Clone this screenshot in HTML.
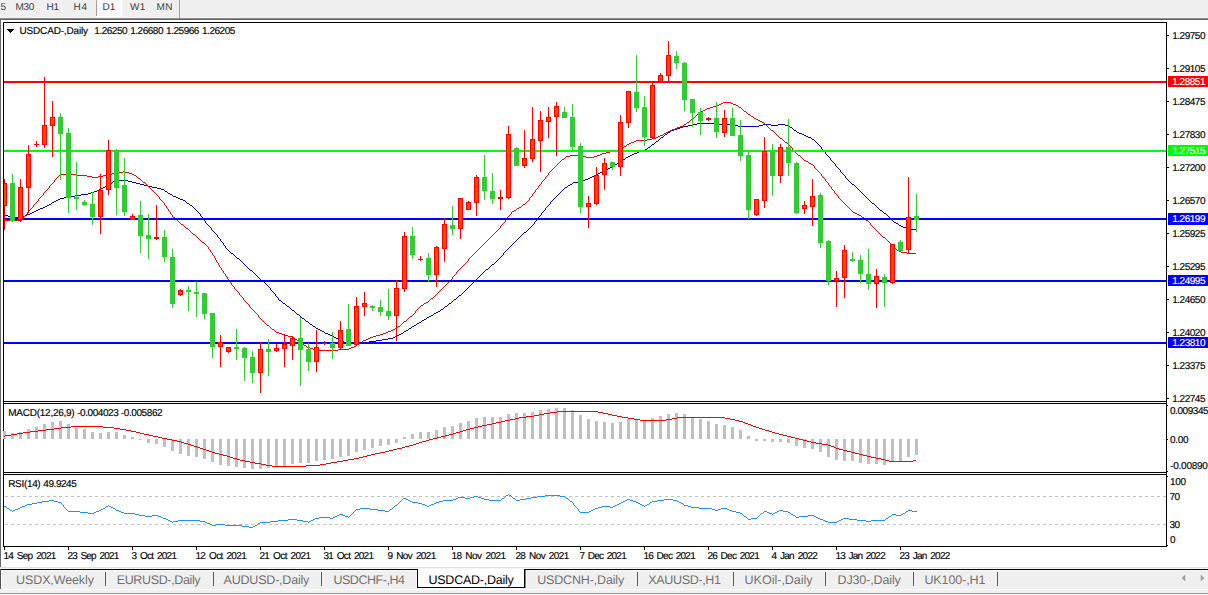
<!DOCTYPE html>
<html><head><meta charset="utf-8"><title>USDCAD-,Daily</title><style>
html,body{margin:0;padding:0;background:#fff;overflow:hidden}
body{width:1208px;height:595px;position:relative;font-family:"Liberation Sans",sans-serif}
svg{position:absolute;left:0;top:0;display:block}
text{font-family:"Liberation Sans",sans-serif;font-size:10px;fill:#000;text-rendering:geometricPrecision;stroke:#000;stroke-width:0.15px}
.tb{fill:#3a3a3a;stroke:none}
.tab{font-size:12.5px;fill:#707070;stroke:none}
.tabA{font-size:12.5px;fill:#000;stroke:none}
.w{fill:#fff;stroke:#fff}
.d{word-spacing:1.6px}
</style></head><body>
<svg width="1208" height="595" viewBox="0 0 1208 595">
<g shape-rendering="crispEdges">
<rect x="0" y="0" width="1208" height="595" fill="#fff"/>
<rect x="0" y="0" width="1208" height="17" fill="#f0f0f0"/>
<rect x="0" y="17" width="1208" height="1" fill="#f5f5f5"/>
<rect x="0" y="18" width="1208" height="1" fill="#8c8c8c"/>
<rect x="0" y="19" width="1208" height="1" fill="#646464"/>
<rect x="97" y="0" width="24" height="16" fill="#f8f8f8"/>
<rect x="96" y="0" width="1" height="16" fill="#a0a0a0"/>
<rect x="96" y="16" width="26" height="1" fill="#ffffff"/>
<rect x="121" y="0" width="1" height="17" fill="#ffffff"/>
<rect x="179" y="0" width="1" height="18" fill="#a0a0a0"/>
<rect x="0" y="19" width="1" height="569" fill="#696969"/>
<rect x="3" y="22" width="1164" height="1" fill="#000"/>
<rect x="3" y="22" width="1" height="525" fill="#000"/>
<rect x="1166" y="22" width="1" height="525" fill="#000"/>
<rect x="3" y="401" width="1164" height="1" fill="#000"/>
<rect x="3" y="403" width="1164" height="1" fill="#000"/>
<rect x="3" y="472" width="1164" height="1" fill="#000"/>
<rect x="3" y="474" width="1164" height="1" fill="#000"/>
<rect x="3" y="546" width="1164" height="1" fill="#000"/>
</g>
<defs><clipPath id="cm"><rect x="4" y="23" width="1162" height="378"/></clipPath></defs>
<g clip-path="url(#cm)">
<path d="M4 214h1v1h-1zM5 215h3v1h-3zM8 216h2v1h-2zM10 217h13v1h-13zM23 216h2v1h-2zM25 215h2v1h-2zM27 214h3v1h-3zM30 213h2v1h-2zM32 212h2v1h-2zM34 211h2v1h-2zM36 210h2v1h-2zM38 209h2v1h-2zM40 208h3v1h-3zM43 207h2v1h-2zM45 206h2v1h-2zM47 205h2v1h-2zM49 204h2v1h-2zM51 203h1v1h-1zM52 202h2v1h-2zM54 201h2v1h-2zM56 200h2v1h-2zM58 199h2v1h-2zM60 198h4v1h-4zM64 197h5v1h-5zM69 196h6v1h-6zM75 195h6v1h-6zM81 194h7v1h-7zM88 193h3v1h-3zM91 192h3v1h-3zM94 191h3v1h-3zM97 190h2v1h-2zM99 189h2v1h-2zM101 188h2v1h-2zM103 187h2v1h-2zM105 186h1v1h-1zM106 185h2v1h-2zM108 184h2v1h-2zM110 183h2v1h-2zM112 182h1v1h-1zM113 181h3v1h-3zM116 180h12v1h-12zM128 181h4v1h-4zM132 182h4v1h-4zM136 183h4v1h-4zM140 184h4v1h-4zM144 185h4v1h-4zM148 186h4v1h-4zM152 187h5v1h-5zM157 188h4v1h-4zM161 189h3v1h-3zM164 190h1v1h-1zM165 191h2v1h-2zM167 192h1v1h-1zM168 193h2v1h-2zM170 194h2v1h-2zM172 195h1v1h-1zM173 196h3v1h-3zM176 197h2v1h-2zM178 198h2v1h-2zM180 199h3v1h-3zM183 200h2v1h-2zM185 201h1v1h-1zM186 202h1v1h-1zM187 203h2v1h-2zM189 204h1v1h-1zM190 205h2v1h-2zM192 206h1v1h-1zM193 207h1v1h-1zM194 208h1v1h-1zM195 209h1v1h-1zM196 210h1v1h-1zM197 211h1v1h-1zM198 212h1v1h-1zM199 213h1v1h-1zM200 214h1v2h-1zM201 216h1v1h-1zM202 217h1v1h-1zM203 218h1v2h-1zM204 220h1v1h-1zM205 221h1v2h-1zM206 223h1v1h-1zM207 224h1v1h-1zM208 225h1v1h-1zM209 226h1v1h-1zM210 227h1v1h-1zM211 228h1v2h-1zM212 230h1v1h-1zM213 231h1v1h-1zM214 232h1v1h-1zM215 233h1v1h-1zM216 234h1v1h-1zM217 235h1v2h-1zM218 237h1v1h-1zM219 238h1v1h-1zM220 239h1v2h-1zM221 241h1v1h-1zM222 242h1v1h-1zM223 243h1v2h-1zM224 245h1v1h-1zM225 246h1v2h-1zM226 248h1v1h-1zM227 249h1v1h-1zM228 250h1v1h-1zM229 251h1v1h-1zM230 252h1v1h-1zM231 253h2v1h-2zM233 254h1v1h-1zM234 255h1v1h-1zM235 256h1v1h-1zM236 257h1v1h-1zM237 258h2v1h-2zM239 259h1v1h-1zM240 260h1v1h-1zM241 261h1v1h-1zM242 262h1v1h-1zM243 263h1v1h-1zM244 264h1v1h-1zM245 265h1v1h-1zM246 266h1v1h-1zM247 267h1v1h-1zM248 268h1v1h-1zM249 269h1v1h-1zM250 270h2v1h-2zM252 271h1v1h-1zM253 272h1v1h-1zM254 273h1v1h-1zM255 274h1v1h-1zM256 275h1v1h-1zM257 276h1v1h-1zM258 277h1v1h-1zM259 278h1v1h-1zM260 279h1v1h-1zM261 280h1v1h-1zM262 281h2v1h-2zM264 282h1v1h-1zM265 283h1v1h-1zM266 284h1v1h-1zM267 285h1v1h-1zM268 286h1v1h-1zM269 287h1v1h-1zM270 288h1v2h-1zM271 290h1v1h-1zM272 291h1v1h-1zM273 292h1v1h-1zM274 293h1v1h-1zM275 294h1v2h-1zM276 296h1v1h-1zM277 297h1v1h-1zM278 298h1v2h-1zM279 300h2v1h-2zM281 301h1v1h-1zM282 302h1v1h-1zM283 303h2v1h-2zM285 304h1v1h-1zM286 305h1v1h-1zM287 306h2v1h-2zM289 307h1v1h-1zM290 308h1v1h-1zM291 309h1v1h-1zM292 310h2v1h-2zM294 311h1v1h-1zM295 312h1v1h-1zM296 313h1v1h-1zM297 314h2v1h-2zM299 315h1v1h-1zM300 316h1v1h-1zM301 317h1v1h-1zM302 318h2v1h-2zM304 319h1v1h-1zM305 320h1v1h-1zM306 321h2v1h-2zM308 322h1v1h-1zM309 323h1v1h-1zM310 324h2v1h-2zM312 325h1v1h-1zM313 326h2v1h-2zM315 327h1v1h-1zM316 328h2v1h-2zM318 329h2v1h-2zM320 330h2v1h-2zM322 331h2v1h-2zM324 332h1v1h-1zM325 333h3v1h-3zM328 334h2v1h-2zM330 335h2v1h-2zM332 336h2v1h-2zM334 337h2v1h-2zM336 338h2v1h-2zM338 339h2v1h-2zM340 340h1v1h-1zM341 341h3v1h-3zM344 342h2v1h-2zM346 343h15v1h-15zM361 342h8v1h-8zM369 341h7v1h-7zM376 340h6v1h-6zM382 339h6v1h-6zM388 338h5v1h-5zM393 337h2v1h-2zM395 336h2v1h-2zM397 335h2v1h-2zM399 334h2v1h-2zM401 333h2v1h-2zM403 332h1v1h-1zM404 331h2v1h-2zM406 330h2v1h-2zM408 329h1v1h-1zM409 328h2v1h-2zM411 327h1v1h-1zM412 326h2v1h-2zM414 325h2v1h-2zM416 324h1v1h-1zM417 323h2v1h-2zM419 322h2v1h-2zM421 321h1v1h-1zM422 320h2v1h-2zM424 319h2v1h-2zM426 318h1v1h-1zM427 317h2v1h-2zM429 316h2v1h-2zM431 315h2v1h-2zM433 314h1v1h-1zM434 313h2v1h-2zM436 312h2v1h-2zM438 311h2v1h-2zM440 310h1v1h-1zM441 309h2v1h-2zM443 308h1v1h-1zM444 307h1v1h-1zM445 306h2v1h-2zM447 305h1v1h-1zM448 304h1v1h-1zM449 303h2v1h-2zM451 302h1v1h-1zM452 301h1v1h-1zM453 300h1v1h-1zM454 299h2v1h-2zM456 298h1v1h-1zM457 297h1v1h-1zM458 296h1v1h-1zM459 295h2v1h-2zM461 294h1v1h-1zM462 293h1v1h-1zM463 292h1v1h-1zM464 291h1v1h-1zM465 290h1v1h-1zM466 289h1v1h-1zM467 288h1v1h-1zM468 287h1v1h-1zM469 286h1v1h-1zM470 285h1v1h-1zM471 284h1v1h-1zM472 283h1v1h-1zM473 282h1v1h-1zM474 281h1v1h-1zM475 280h1v1h-1zM476 279h1v1h-1zM477 278h1v1h-1zM478 277h1v1h-1zM479 276h1v1h-1zM480 275h1v1h-1zM481 274h1v1h-1zM482 273h1v1h-1zM483 272h1v1h-1zM484 271h1v1h-1zM485 270h1v1h-1zM486 269h2v1h-2zM488 268h1v1h-1zM489 267h1v1h-1zM490 266h1v1h-1zM491 265h1v1h-1zM492 264h2v1h-2zM494 263h1v1h-1zM495 262h1v1h-1zM496 261h1v1h-1zM497 260h1v1h-1zM498 259h1v1h-1zM499 258h1v1h-1zM500 257h1v1h-1zM501 256h1v1h-1zM502 255h1v1h-1zM503 253h1v2h-1zM504 252h1v1h-1zM505 251h1v1h-1zM506 250h1v1h-1zM507 249h1v1h-1zM508 248h1v1h-1zM509 247h1v1h-1zM510 246h1v1h-1zM511 245h1v1h-1zM512 244h1v1h-1zM513 243h1v1h-1zM514 242h1v1h-1zM515 241h1v1h-1zM516 240h1v1h-1zM517 239h1v1h-1zM518 238h1v1h-1zM519 237h1v1h-1zM520 236h1v1h-1zM521 235h1v1h-1zM522 234h1v1h-1zM523 233h1v1h-1zM524 232h2v1h-2zM526 231h1v1h-1zM527 230h1v1h-1zM528 229h1v1h-1zM529 228h1v1h-1zM530 227h1v1h-1zM531 226h1v1h-1zM532 225h1v1h-1zM533 224h1v1h-1zM534 222h1v2h-1zM535 221h1v1h-1zM536 220h1v1h-1zM537 219h1v1h-1zM538 217h1v2h-1zM539 216h1v1h-1zM540 215h1v1h-1zM541 213h1v2h-1zM542 212h1v1h-1zM543 211h1v1h-1zM544 210h1v1h-1zM545 208h1v2h-1zM546 207h1v1h-1zM547 206h1v1h-1zM548 205h1v1h-1zM549 204h1v1h-1zM550 202h1v2h-1zM551 201h1v1h-1zM552 200h1v1h-1zM553 199h1v1h-1zM554 198h1v1h-1zM555 197h1v1h-1zM556 196h1v1h-1zM557 195h1v1h-1zM558 194h1v1h-1zM559 193h1v1h-1zM560 192h1v1h-1zM561 191h1v1h-1zM562 190h1v1h-1zM563 189h1v1h-1zM564 188h1v1h-1zM565 187h2v1h-2zM567 186h1v1h-1zM568 185h2v1h-2zM570 184h2v1h-2zM572 183h1v1h-1zM573 182h7v1h-7zM580 181h3v1h-3zM583 180h2v1h-2zM585 179h3v1h-3zM588 178h2v1h-2zM590 177h2v1h-2zM592 176h2v1h-2zM594 175h2v1h-2zM596 174h2v1h-2zM598 173h2v1h-2zM600 172h2v1h-2zM602 171h2v1h-2zM604 170h2v1h-2zM606 169h2v1h-2zM608 168h2v1h-2zM610 167h2v1h-2zM612 166h2v1h-2zM614 165h1v1h-1zM615 164h2v1h-2zM617 163h1v1h-1zM618 162h2v1h-2zM620 161h1v1h-1zM621 160h2v1h-2zM623 159h2v1h-2zM625 158h1v1h-1zM626 157h2v1h-2zM628 156h2v1h-2zM630 155h2v1h-2zM632 154h2v1h-2zM634 153h3v1h-3zM637 152h2v1h-2zM639 151h3v1h-3zM642 150h3v1h-3zM645 149h2v1h-2zM647 148h1v1h-1zM648 147h2v1h-2zM650 146h1v1h-1zM651 145h1v1h-1zM652 144h2v1h-2zM654 143h1v1h-1zM655 142h1v1h-1zM656 141h2v1h-2zM658 140h1v1h-1zM659 139h1v1h-1zM660 138h1v1h-1zM661 137h2v1h-2zM663 136h1v1h-1zM664 135h1v1h-1zM665 134h2v1h-2zM667 133h1v1h-1zM668 132h2v1h-2zM670 131h1v1h-1zM671 130h3v1h-3zM674 129h3v1h-3zM677 128h3v1h-3zM680 127h3v1h-3zM683 126h5v1h-5zM688 125h4v1h-4zM692 124h5v1h-5zM697 123h21v1h-21zM718 124h14v1h-14zM732 125h6v1h-6zM738 126h21v1h-21zM759 125h4v1h-4zM763 124h8v1h-8zM771 125h7v1h-7zM778 124h7v1h-7zM785 125h4v1h-4zM789 126h1v1h-1zM790 127h2v1h-2zM792 128h1v1h-1zM793 129h1v1h-1zM794 130h2v1h-2zM796 131h1v1h-1zM797 132h2v1h-2zM799 133h3v1h-3zM802 134h2v1h-2zM804 135h2v1h-2zM806 136h2v1h-2zM808 137h3v1h-3zM811 138h1v1h-1zM812 139h2v1h-2zM814 140h1v1h-1zM815 141h1v1h-1zM816 142h1v1h-1zM817 143h1v1h-1zM818 144h1v1h-1zM819 145h1v1h-1zM820 146h1v1h-1zM821 147h1v2h-1zM822 149h1v1h-1zM823 150h1v1h-1zM824 151h1v1h-1zM825 152h1v2h-1zM826 154h1v1h-1zM827 155h1v1h-1zM828 156h1v1h-1zM829 157h1v1h-1zM830 158h1v2h-1zM831 160h1v1h-1zM832 161h1v1h-1zM833 162h1v1h-1zM834 163h1v1h-1zM835 164h1v2h-1zM836 166h1v1h-1zM837 167h1v1h-1zM838 168h1v1h-1zM839 169h1v1h-1zM840 170h1v2h-1zM841 172h1v1h-1zM842 173h1v1h-1zM843 174h1v1h-1zM844 175h1v1h-1zM845 176h1v2h-1zM846 178h1v1h-1zM847 179h1v1h-1zM848 180h1v1h-1zM849 181h1v1h-1zM850 182h1v1h-1zM851 183h1v1h-1zM852 184h2v1h-2zM854 185h1v1h-1zM855 186h1v1h-1zM856 187h1v1h-1zM857 188h1v1h-1zM858 189h1v1h-1zM859 190h1v1h-1zM860 191h1v1h-1zM861 192h1v1h-1zM862 193h1v1h-1zM863 194h1v1h-1zM864 195h1v1h-1zM865 196h1v1h-1zM866 197h1v1h-1zM867 198h1v1h-1zM868 199h1v1h-1zM869 200h1v1h-1zM870 201h1v1h-1zM871 202h1v1h-1zM872 203h2v1h-2zM874 204h1v1h-1zM875 205h1v1h-1zM876 206h1v1h-1zM877 207h1v1h-1zM878 208h1v1h-1zM879 209h1v1h-1zM880 210h2v1h-2zM882 211h1v1h-1zM883 212h1v1h-1zM884 213h2v1h-2zM886 214h1v1h-1zM887 215h1v1h-1zM888 216h1v1h-1zM889 217h1v1h-1zM890 218h1v1h-1zM891 219h1v1h-1zM892 220h1v1h-1zM893 221h1v1h-1zM894 222h2v1h-2zM896 223h2v1h-2zM898 224h1v1h-1zM899 225h2v1h-2zM901 226h2v1h-2zM903 227h4v1h-4zM907 228h4v1h-4zM911 229h5v1h-5zM916 230h1v1h-1z" fill="#0000cd" shape-rendering="crispEdges"/>
<path d="M4 220h18v1h-18zM22 218h1v2h-1zM23 217h1v1h-1zM24 216h1v1h-1zM25 215h1v1h-1zM26 214h1v1h-1zM27 212h1v2h-1zM28 211h1v1h-1zM29 210h1v1h-1zM30 209h1v1h-1zM31 208h1v1h-1zM32 207h1v1h-1zM33 205h1v2h-1zM34 204h1v1h-1zM35 203h1v1h-1zM36 202h1v1h-1zM37 201h1v1h-1zM38 199h1v2h-1zM39 198h1v1h-1zM40 197h1v1h-1zM41 196h1v1h-1zM42 195h1v1h-1zM43 193h1v2h-1zM44 192h1v1h-1zM45 191h1v1h-1zM46 190h1v1h-1zM47 189h1v1h-1zM48 188h1v1h-1zM49 186h1v2h-1zM50 185h1v1h-1zM51 184h1v1h-1zM52 183h1v1h-1zM53 182h1v1h-1zM54 180h1v2h-1zM55 179h1v1h-1zM56 178h1v1h-1zM57 177h1v1h-1zM58 176h1v1h-1zM59 175h1v1h-1zM60 174h17v1h-17zM77 175h10v1h-10zM87 176h5v1h-5zM92 177h6v1h-6zM98 176h5v1h-5zM103 175h3v1h-3zM106 174h6v1h-6zM112 173h7v1h-7zM119 172h4v1h-4zM123 171h2v1h-2zM125 172h4v1h-4zM129 173h3v1h-3zM132 174h2v1h-2zM134 175h2v1h-2zM136 176h1v1h-1zM137 177h1v1h-1zM138 178h2v1h-2zM140 179h1v1h-1zM141 180h1v1h-1zM142 181h1v1h-1zM143 182h2v1h-2zM145 183h1v1h-1zM146 184h1v1h-1zM147 185h1v1h-1zM148 186h1v1h-1zM149 187h1v1h-1zM150 188h1v1h-1zM151 189h1v1h-1zM152 190h1v1h-1zM153 191h1v1h-1zM154 192h1v1h-1zM155 193h1v1h-1zM156 194h1v1h-1zM157 195h1v1h-1zM158 196h1v1h-1zM159 197h1v2h-1zM160 199h1v1h-1zM161 200h1v1h-1zM162 201h1v1h-1zM163 202h1v1h-1zM164 203h1v2h-1zM165 205h1v1h-1zM166 206h1v2h-1zM167 208h1v1h-1zM168 209h1v2h-1zM169 211h1v1h-1zM170 212h1v2h-1zM171 214h1v1h-1zM172 215h1v2h-1zM173 217h2v1h-2zM175 218h1v1h-1zM176 219h1v1h-1zM177 220h1v1h-1zM178 221h1v1h-1zM179 222h1v1h-1zM180 223h1v1h-1zM181 224h2v1h-2zM183 225h1v1h-1zM184 226h1v1h-1zM185 227h1v1h-1zM186 228h2v1h-2zM188 229h1v1h-1zM189 230h1v1h-1zM190 231h1v1h-1zM191 232h1v1h-1zM192 233h1v1h-1zM193 234h2v1h-2zM195 235h1v1h-1zM196 236h1v1h-1zM197 237h1v1h-1zM198 238h1v1h-1zM199 239h1v1h-1zM200 240h1v1h-1zM201 241h1v1h-1zM202 242h2v1h-2zM204 243h1v1h-1zM205 244h1v1h-1zM206 245h1v1h-1zM207 246h1v1h-1zM208 247h1v2h-1zM209 249h1v1h-1zM210 250h1v2h-1zM211 252h1v1h-1zM212 253h1v2h-1zM213 255h1v1h-1zM214 256h1v2h-1zM215 258h1v2h-1zM216 260h1v2h-1zM217 262h1v1h-1zM218 263h1v2h-1zM219 265h1v2h-1zM220 267h1v1h-1zM221 268h1v2h-1zM222 270h1v1h-1zM223 271h1v2h-1zM224 273h1v1h-1zM225 274h1v2h-1zM226 276h1v1h-1zM227 277h1v2h-1zM228 279h1v1h-1zM229 280h1v2h-1zM230 282h1v1h-1zM231 283h1v2h-1zM232 285h1v1h-1zM233 286h1v1h-1zM234 287h1v2h-1zM235 289h1v1h-1zM236 290h1v1h-1zM237 291h1v1h-1zM238 292h1v1h-1zM239 293h1v2h-1zM240 295h1v1h-1zM241 296h1v1h-1zM242 297h1v1h-1zM243 298h1v2h-1zM244 300h1v1h-1zM245 301h1v1h-1zM246 302h1v1h-1zM247 303h1v1h-1zM248 304h1v1h-1zM249 305h1v2h-1zM250 307h1v1h-1zM251 308h1v1h-1zM252 309h1v1h-1zM253 310h1v1h-1zM254 311h1v1h-1zM255 312h1v1h-1zM256 313h1v1h-1zM257 314h1v1h-1zM258 315h1v2h-1zM259 317h1v1h-1zM260 318h1v1h-1zM261 319h1v1h-1zM262 320h1v1h-1zM263 321h1v1h-1zM264 322h1v1h-1zM265 323h1v1h-1zM266 324h1v1h-1zM267 325h2v1h-2zM269 326h1v1h-1zM270 327h1v1h-1zM271 328h1v1h-1zM272 329h2v1h-2zM274 330h1v1h-1zM275 331h1v1h-1zM276 332h3v1h-3zM279 333h3v1h-3zM282 334h2v1h-2zM284 335h4v1h-4zM288 336h4v1h-4zM292 337h2v1h-2zM294 338h1v1h-1zM295 339h2v1h-2zM297 340h1v1h-1zM298 341h2v1h-2zM300 342h1v1h-1zM301 343h2v1h-2zM303 344h1v1h-1zM304 345h2v1h-2zM306 346h1v1h-1zM307 347h3v1h-3zM310 348h3v1h-3zM313 349h5v1h-5zM318 350h20v1h-20zM338 349h11v1h-11zM349 348h2v1h-2zM351 347h3v1h-3zM354 346h2v1h-2zM356 345h1v1h-1zM357 344h2v1h-2zM359 343h1v1h-1zM360 342h2v1h-2zM362 341h1v1h-1zM363 340h3v1h-3zM366 339h2v1h-2zM368 338h2v1h-2zM370 337h3v1h-3zM373 336h3v1h-3zM376 335h4v1h-4zM380 334h3v1h-3zM383 333h3v1h-3zM386 332h2v1h-2zM388 331h3v1h-3zM391 330h2v1h-2zM393 329h2v1h-2zM395 328h2v1h-2zM397 327h1v1h-1zM398 326h2v1h-2zM400 325h1v1h-1zM401 324h1v1h-1zM402 323h1v1h-1zM403 322h1v1h-1zM404 321h2v1h-2zM406 320h1v1h-1zM407 319h1v1h-1zM408 318h1v1h-1zM409 317h1v1h-1zM410 316h2v1h-2zM412 315h1v1h-1zM413 314h1v1h-1zM414 313h1v1h-1zM415 311h1v2h-1zM416 310h1v1h-1zM417 309h1v1h-1zM418 308h1v1h-1zM419 307h1v1h-1zM420 306h1v1h-1zM421 305h2v1h-2zM423 304h1v1h-1zM424 303h2v1h-2zM426 302h2v1h-2zM428 301h1v1h-1zM429 300h1v1h-1zM430 299h1v1h-1zM431 298h2v1h-2zM433 297h1v1h-1zM434 296h1v1h-1zM435 295h1v1h-1zM436 294h1v1h-1zM437 293h1v1h-1zM438 292h1v1h-1zM439 291h1v1h-1zM440 290h1v1h-1zM441 289h1v1h-1zM442 288h1v1h-1zM443 287h1v1h-1zM444 286h1v1h-1zM445 285h1v1h-1zM446 284h1v1h-1zM447 283h1v1h-1zM448 282h1v1h-1zM449 281h1v1h-1zM450 280h1v1h-1zM451 279h1v1h-1zM452 277h1v2h-1zM453 276h1v1h-1zM454 275h1v1h-1zM455 274h1v1h-1zM456 272h1v2h-1zM457 271h1v1h-1zM458 270h1v1h-1zM459 269h1v1h-1zM460 268h1v1h-1zM461 267h1v1h-1zM462 266h1v1h-1zM463 265h1v1h-1zM464 264h1v1h-1zM465 263h1v1h-1zM466 262h1v1h-1zM467 261h1v1h-1zM468 259h1v2h-1zM469 258h1v1h-1zM470 257h1v1h-1zM471 256h1v1h-1zM472 255h1v1h-1zM473 254h1v1h-1zM474 253h1v1h-1zM475 252h1v1h-1zM476 251h1v1h-1zM477 250h1v1h-1zM478 249h1v1h-1zM479 248h1v1h-1zM480 247h1v1h-1zM481 246h1v1h-1zM482 245h1v1h-1zM483 244h1v1h-1zM484 243h1v1h-1zM485 242h1v1h-1zM486 241h1v1h-1zM487 240h1v1h-1zM488 239h1v1h-1zM489 238h1v1h-1zM490 237h1v1h-1zM491 236h1v1h-1zM492 235h1v1h-1zM493 234h1v1h-1zM494 233h1v1h-1zM495 232h1v1h-1zM496 231h1v1h-1zM497 230h1v1h-1zM498 229h1v1h-1zM499 228h1v1h-1zM500 226h1v2h-1zM501 225h1v1h-1zM502 224h1v1h-1zM503 223h1v1h-1zM504 222h1v1h-1zM505 220h1v2h-1zM506 218h1v2h-1zM507 217h1v1h-1zM508 216h1v1h-1zM509 215h1v1h-1zM510 214h1v1h-1zM511 212h1v2h-1zM512 211h2v1h-2zM514 210h2v1h-2zM516 209h1v1h-1zM517 208h2v1h-2zM519 207h2v1h-2zM521 206h1v1h-1zM522 205h1v1h-1zM523 204h2v1h-2zM525 203h1v1h-1zM526 202h1v1h-1zM527 201h1v1h-1zM528 200h1v1h-1zM529 198h1v2h-1zM530 197h1v1h-1zM531 196h1v1h-1zM532 194h1v2h-1zM533 193h1v1h-1zM534 192h1v1h-1zM535 190h1v2h-1zM536 189h1v1h-1zM537 188h1v1h-1zM538 186h1v2h-1zM539 185h1v1h-1zM540 184h1v1h-1zM541 182h1v2h-1zM542 181h1v1h-1zM543 180h1v1h-1zM544 179h1v1h-1zM545 177h1v2h-1zM546 176h1v1h-1zM547 175h1v1h-1zM548 173h1v2h-1zM549 172h1v1h-1zM550 171h1v1h-1zM551 170h1v1h-1zM552 169h1v1h-1zM553 168h1v1h-1zM554 167h1v1h-1zM555 166h1v1h-1zM556 165h1v1h-1zM557 164h1v1h-1zM558 163h1v1h-1zM559 162h1v1h-1zM560 161h1v1h-1zM561 160h1v1h-1zM562 159h2v1h-2zM564 158h1v1h-1zM565 157h1v1h-1zM566 156h4v1h-4zM570 155h12v1h-12zM582 156h4v1h-4zM586 157h8v1h-8zM594 156h3v1h-3zM597 155h3v1h-3zM600 154h2v1h-2zM602 153h4v1h-4zM606 152h4v1h-4zM610 151h4v1h-4zM614 150h5v1h-5zM619 149h2v1h-2zM621 148h2v1h-2zM623 147h1v1h-1zM624 146h2v1h-2zM626 145h1v1h-1zM627 144h2v1h-2zM629 143h2v1h-2zM631 142h3v1h-3zM634 141h2v1h-2zM636 140h11v1h-11zM647 139h5v1h-5zM652 138h4v1h-4zM656 137h2v1h-2zM658 136h2v1h-2zM660 135h3v1h-3zM663 134h1v1h-1zM664 133h2v1h-2zM666 132h2v1h-2zM668 131h2v1h-2zM670 130h2v1h-2zM672 129h3v1h-3zM675 128h2v1h-2zM677 127h3v1h-3zM680 126h3v1h-3zM683 125h1v1h-1zM684 124h2v1h-2zM686 123h1v1h-1zM687 122h2v1h-2zM689 121h1v1h-1zM690 120h1v1h-1zM691 119h2v1h-2zM693 118h1v1h-1zM694 117h1v1h-1zM695 116h1v1h-1zM696 115h1v1h-1zM697 114h1v1h-1zM698 113h1v1h-1zM699 112h2v1h-2zM701 111h2v1h-2zM703 110h2v1h-2zM705 109h2v1h-2zM707 108h3v1h-3zM710 107h3v1h-3zM713 106h3v1h-3zM716 105h3v1h-3zM719 104h2v1h-2zM721 103h2v1h-2zM723 102h8v1h-8zM731 103h2v1h-2zM733 104h3v1h-3zM736 105h2v1h-2zM738 106h1v1h-1zM739 107h2v1h-2zM741 108h1v1h-1zM742 109h1v1h-1zM743 110h1v1h-1zM744 111h2v1h-2zM746 112h1v1h-1zM747 113h1v1h-1zM748 114h2v1h-2zM750 115h1v1h-1zM751 116h2v1h-2zM753 117h1v1h-1zM754 118h2v1h-2zM756 119h2v1h-2zM758 120h2v1h-2zM760 121h2v1h-2zM762 122h2v1h-2zM764 123h1v1h-1zM765 124h1v1h-1zM766 125h1v1h-1zM767 126h1v1h-1zM768 127h1v1h-1zM769 128h1v1h-1zM770 129h1v1h-1zM771 130h2v1h-2zM773 131h1v1h-1zM774 132h1v1h-1zM775 133h1v1h-1zM776 134h1v1h-1zM777 135h1v1h-1zM778 136h1v1h-1zM779 137h1v1h-1zM780 138h2v1h-2zM782 139h1v1h-1zM783 140h1v1h-1zM784 141h1v1h-1zM785 142h2v1h-2zM787 143h1v1h-1zM788 144h1v1h-1zM789 145h1v1h-1zM790 146h1v1h-1zM791 147h1v1h-1zM792 148h1v2h-1zM793 150h1v1h-1zM794 151h1v1h-1zM795 152h1v1h-1zM796 153h1v1h-1zM797 154h1v1h-1zM798 155h2v1h-2zM800 156h1v1h-1zM801 157h1v1h-1zM802 158h1v1h-1zM803 159h1v1h-1zM804 160h2v1h-2zM806 161h2v1h-2zM808 162h1v1h-1zM809 163h2v1h-2zM811 164h2v1h-2zM813 165h1v1h-1zM814 166h1v2h-1zM815 168h1v1h-1zM816 169h1v1h-1zM817 170h1v1h-1zM818 171h1v1h-1zM819 172h1v1h-1zM820 173h1v1h-1zM821 174h1v2h-1zM822 176h1v1h-1zM823 177h1v1h-1zM824 178h1v1h-1zM825 179h1v2h-1zM826 181h1v1h-1zM827 182h1v1h-1zM828 183h1v2h-1zM829 185h1v1h-1zM830 186h1v1h-1zM831 187h1v2h-1zM832 189h1v1h-1zM833 190h1v1h-1zM834 191h1v2h-1zM835 193h1v1h-1zM836 194h1v1h-1zM837 195h1v1h-1zM838 196h1v2h-1zM839 198h1v1h-1zM840 199h1v1h-1zM841 200h1v1h-1zM842 201h1v1h-1zM843 202h1v1h-1zM844 203h1v1h-1zM845 204h1v1h-1zM846 205h1v1h-1zM847 206h1v1h-1zM848 207h1v1h-1zM849 208h1v1h-1zM850 209h1v1h-1zM851 210h1v1h-1zM852 211h1v1h-1zM853 212h2v1h-2zM855 213h2v1h-2zM857 214h2v1h-2zM859 215h2v1h-2zM861 216h1v1h-1zM862 217h2v1h-2zM864 218h1v1h-1zM865 219h1v1h-1zM866 220h2v1h-2zM868 221h1v1h-1zM869 222h1v1h-1zM870 223h1v2h-1zM871 225h1v1h-1zM872 226h1v1h-1zM873 227h1v1h-1zM874 228h1v1h-1zM875 229h1v1h-1zM876 230h1v1h-1zM877 231h1v1h-1zM878 232h1v1h-1zM879 233h1v1h-1zM880 234h1v1h-1zM881 235h1v1h-1zM882 236h1v1h-1zM883 237h2v1h-2zM885 238h1v1h-1zM886 239h1v1h-1zM887 240h1v1h-1zM888 241h1v1h-1zM889 242h1v1h-1zM890 243h1v1h-1zM891 244h1v1h-1zM892 245h1v1h-1zM893 246h1v1h-1zM894 247h1v1h-1zM895 248h1v1h-1zM896 249h1v1h-1zM897 250h2v1h-2zM899 251h2v1h-2zM901 252h6v1h-6zM907 253h9v1h-9z" fill="#ff0000" shape-rendering="crispEdges"/>
</g>
<g shape-rendering="crispEdges" clip-path="url(#cm)">
<rect x="4" y="81" width="1162" height="2" fill="#ff0000"/>
<rect x="4" y="150" width="1162" height="2" fill="#00ff00"/>
<rect x="4" y="218" width="1162" height="2" fill="#0000ff"/>
<rect x="4" y="280" width="1162" height="2" fill="#0000ff"/>
<rect x="4" y="342" width="1162" height="2" fill="#0000ff"/>
<rect x="4" y="179" width="1" height="51" fill="#ff0000"/>
<rect x="2" y="183" width="5" height="23" fill="#ff0000"/>
<rect x="3" y="184" width="3" height="21" fill="#ff4500"/>
<rect x="12" y="174" width="1" height="48" fill="#32cd32"/>
<rect x="10" y="183" width="5" height="38" fill="#32cd32"/>
<rect x="20" y="179" width="1" height="43" fill="#ff0000"/>
<rect x="18" y="187" width="5" height="33" fill="#ff0000"/>
<rect x="19" y="188" width="3" height="31" fill="#ff4500"/>
<rect x="28" y="145" width="1" height="68" fill="#ff0000"/>
<rect x="26" y="154" width="5" height="34" fill="#ff0000"/>
<rect x="27" y="155" width="3" height="32" fill="#ff4500"/>
<rect x="36" y="141" width="1" height="6" fill="#ff0000"/>
<rect x="34" y="144" width="5" height="1" fill="#ff0000"/>
<rect x="44" y="77" width="1" height="71" fill="#ff0000"/>
<rect x="42" y="125" width="5" height="20" fill="#ff0000"/>
<rect x="43" y="126" width="3" height="18" fill="#ff4500"/>
<rect x="52" y="101" width="1" height="56" fill="#ff0000"/>
<rect x="50" y="117" width="5" height="9" fill="#ff0000"/>
<rect x="51" y="118" width="3" height="7" fill="#ff4500"/>
<rect x="60" y="113" width="1" height="67" fill="#32cd32"/>
<rect x="58" y="117" width="5" height="17" fill="#32cd32"/>
<rect x="68" y="128" width="1" height="85" fill="#32cd32"/>
<rect x="66" y="133" width="5" height="65" fill="#32cd32"/>
<rect x="76" y="162" width="1" height="48" fill="#32cd32"/>
<rect x="74" y="197" width="5" height="2" fill="#32cd32"/>
<rect x="84" y="200" width="1" height="6" fill="#32cd32"/>
<rect x="82" y="202" width="5" height="3" fill="#32cd32"/>
<rect x="92" y="192" width="1" height="33" fill="#32cd32"/>
<rect x="90" y="204" width="5" height="13" fill="#32cd32"/>
<rect x="100" y="174" width="1" height="60" fill="#ff0000"/>
<rect x="98" y="190" width="5" height="27" fill="#ff0000"/>
<rect x="99" y="191" width="3" height="25" fill="#ff4500"/>
<rect x="108" y="140" width="1" height="55" fill="#ff0000"/>
<rect x="106" y="150" width="5" height="40" fill="#ff0000"/>
<rect x="107" y="151" width="3" height="38" fill="#ff4500"/>
<rect x="116" y="149" width="1" height="66" fill="#32cd32"/>
<rect x="114" y="150" width="5" height="38" fill="#32cd32"/>
<rect x="124" y="158" width="1" height="58" fill="#32cd32"/>
<rect x="122" y="185" width="5" height="27" fill="#32cd32"/>
<rect x="132" y="214" width="1" height="6" fill="#ff0000"/>
<rect x="130" y="216" width="5" height="4" fill="#ff0000"/>
<rect x="131" y="217" width="3" height="2" fill="#ff4500"/>
<rect x="140" y="201" width="1" height="52" fill="#32cd32"/>
<rect x="138" y="215" width="5" height="21" fill="#32cd32"/>
<rect x="148" y="214" width="1" height="45" fill="#32cd32"/>
<rect x="146" y="235" width="5" height="4" fill="#32cd32"/>
<rect x="156" y="205" width="1" height="35" fill="#ff0000"/>
<rect x="154" y="237" width="5" height="2" fill="#ff0000"/>
<rect x="164" y="230" width="1" height="32" fill="#32cd32"/>
<rect x="162" y="237" width="5" height="20" fill="#32cd32"/>
<rect x="172" y="249" width="1" height="59" fill="#32cd32"/>
<rect x="170" y="257" width="5" height="47" fill="#32cd32"/>
<rect x="180" y="289" width="1" height="7" fill="#ff0000"/>
<rect x="178" y="290" width="5" height="5" fill="#ff0000"/>
<rect x="179" y="291" width="3" height="3" fill="#ff4500"/>
<rect x="188" y="286" width="1" height="25" fill="#32cd32"/>
<rect x="186" y="290" width="5" height="2" fill="#32cd32"/>
<rect x="196" y="282" width="1" height="35" fill="#32cd32"/>
<rect x="194" y="292" width="5" height="2" fill="#32cd32"/>
<rect x="204" y="293" width="1" height="26" fill="#32cd32"/>
<rect x="202" y="293" width="5" height="21" fill="#32cd32"/>
<rect x="212" y="313" width="1" height="45" fill="#32cd32"/>
<rect x="210" y="313" width="5" height="34" fill="#32cd32"/>
<rect x="220" y="335" width="1" height="32" fill="#ff0000"/>
<rect x="218" y="342" width="5" height="5" fill="#ff0000"/>
<rect x="219" y="343" width="3" height="3" fill="#ff4500"/>
<rect x="228" y="347" width="1" height="6" fill="#ff0000"/>
<rect x="226" y="347" width="5" height="5" fill="#ff0000"/>
<rect x="227" y="348" width="3" height="3" fill="#ff4500"/>
<rect x="236" y="329" width="1" height="31" fill="#32cd32"/>
<rect x="234" y="347" width="5" height="2" fill="#32cd32"/>
<rect x="244" y="347" width="1" height="34" fill="#32cd32"/>
<rect x="242" y="348" width="5" height="10" fill="#32cd32"/>
<rect x="252" y="351" width="1" height="32" fill="#32cd32"/>
<rect x="250" y="357" width="5" height="16" fill="#32cd32"/>
<rect x="260" y="342" width="1" height="51" fill="#ff0000"/>
<rect x="258" y="349" width="5" height="24" fill="#ff0000"/>
<rect x="259" y="350" width="3" height="22" fill="#ff4500"/>
<rect x="268" y="339" width="1" height="37" fill="#32cd32"/>
<rect x="266" y="349" width="5" height="3" fill="#32cd32"/>
<rect x="276" y="344" width="1" height="8" fill="#ff0000"/>
<rect x="274" y="348" width="5" height="3" fill="#ff0000"/>
<rect x="275" y="349" width="3" height="1" fill="#ff4500"/>
<rect x="284" y="334" width="1" height="33" fill="#ff0000"/>
<rect x="282" y="344" width="5" height="5" fill="#ff0000"/>
<rect x="283" y="345" width="3" height="3" fill="#ff4500"/>
<rect x="292" y="336" width="1" height="24" fill="#ff0000"/>
<rect x="290" y="338" width="5" height="8" fill="#ff0000"/>
<rect x="291" y="339" width="3" height="6" fill="#ff4500"/>
<rect x="300" y="317" width="1" height="69" fill="#32cd32"/>
<rect x="298" y="338" width="5" height="12" fill="#32cd32"/>
<rect x="308" y="343" width="1" height="28" fill="#32cd32"/>
<rect x="306" y="349" width="5" height="13" fill="#32cd32"/>
<rect x="316" y="330" width="1" height="42" fill="#ff0000"/>
<rect x="314" y="347" width="5" height="15" fill="#ff0000"/>
<rect x="315" y="348" width="3" height="13" fill="#ff4500"/>
<rect x="324" y="341" width="1" height="4" fill="#ff0000"/>
<rect x="322" y="343" width="5" height="1" fill="#ff0000"/>
<rect x="332" y="332" width="1" height="27" fill="#32cd32"/>
<rect x="330" y="343" width="5" height="5" fill="#32cd32"/>
<rect x="340" y="321" width="1" height="28" fill="#ff0000"/>
<rect x="338" y="330" width="5" height="18" fill="#ff0000"/>
<rect x="339" y="331" width="3" height="16" fill="#ff4500"/>
<rect x="348" y="304" width="1" height="42" fill="#32cd32"/>
<rect x="346" y="329" width="5" height="17" fill="#32cd32"/>
<rect x="356" y="297" width="1" height="48" fill="#ff0000"/>
<rect x="354" y="306" width="5" height="39" fill="#ff0000"/>
<rect x="355" y="307" width="3" height="37" fill="#ff4500"/>
<rect x="364" y="292" width="1" height="24" fill="#ff0000"/>
<rect x="362" y="303" width="5" height="4" fill="#ff0000"/>
<rect x="363" y="304" width="3" height="2" fill="#ff4500"/>
<rect x="372" y="305" width="1" height="6" fill="#32cd32"/>
<rect x="370" y="306" width="5" height="2" fill="#32cd32"/>
<rect x="380" y="300" width="1" height="16" fill="#32cd32"/>
<rect x="378" y="307" width="5" height="5" fill="#32cd32"/>
<rect x="388" y="289" width="1" height="31" fill="#32cd32"/>
<rect x="386" y="311" width="5" height="5" fill="#32cd32"/>
<rect x="396" y="280" width="1" height="61" fill="#ff0000"/>
<rect x="394" y="288" width="5" height="28" fill="#ff0000"/>
<rect x="395" y="289" width="3" height="26" fill="#ff4500"/>
<rect x="404" y="232" width="1" height="60" fill="#ff0000"/>
<rect x="402" y="236" width="5" height="53" fill="#ff0000"/>
<rect x="403" y="237" width="3" height="51" fill="#ff4500"/>
<rect x="412" y="227" width="1" height="32" fill="#32cd32"/>
<rect x="410" y="236" width="5" height="19" fill="#32cd32"/>
<rect x="420" y="256" width="1" height="5" fill="#ff0000"/>
<rect x="418" y="259" width="5" height="1" fill="#ff0000"/>
<rect x="428" y="253" width="1" height="29" fill="#32cd32"/>
<rect x="426" y="258" width="5" height="17" fill="#32cd32"/>
<rect x="436" y="246" width="1" height="41" fill="#ff0000"/>
<rect x="434" y="247" width="5" height="28" fill="#ff0000"/>
<rect x="435" y="248" width="3" height="26" fill="#ff4500"/>
<rect x="444" y="218" width="1" height="44" fill="#ff0000"/>
<rect x="442" y="224" width="5" height="25" fill="#ff0000"/>
<rect x="443" y="225" width="3" height="23" fill="#ff4500"/>
<rect x="452" y="206" width="1" height="29" fill="#32cd32"/>
<rect x="450" y="225" width="5" height="4" fill="#32cd32"/>
<rect x="460" y="198" width="1" height="41" fill="#ff0000"/>
<rect x="458" y="198" width="5" height="31" fill="#ff0000"/>
<rect x="459" y="199" width="3" height="29" fill="#ff4500"/>
<rect x="468" y="201" width="1" height="9" fill="#ff0000"/>
<rect x="466" y="202" width="5" height="8" fill="#ff0000"/>
<rect x="467" y="203" width="3" height="6" fill="#ff4500"/>
<rect x="476" y="175" width="1" height="41" fill="#ff0000"/>
<rect x="474" y="177" width="5" height="26" fill="#ff0000"/>
<rect x="475" y="178" width="3" height="24" fill="#ff4500"/>
<rect x="484" y="155" width="1" height="45" fill="#32cd32"/>
<rect x="482" y="177" width="5" height="14" fill="#32cd32"/>
<rect x="492" y="173" width="1" height="31" fill="#32cd32"/>
<rect x="490" y="191" width="5" height="8" fill="#32cd32"/>
<rect x="500" y="190" width="1" height="20" fill="#ff0000"/>
<rect x="498" y="197" width="5" height="2" fill="#ff0000"/>
<rect x="508" y="126" width="1" height="73" fill="#ff0000"/>
<rect x="506" y="134" width="5" height="64" fill="#ff0000"/>
<rect x="507" y="135" width="3" height="62" fill="#ff4500"/>
<rect x="516" y="147" width="1" height="19" fill="#32cd32"/>
<rect x="514" y="148" width="5" height="18" fill="#32cd32"/>
<rect x="524" y="130" width="1" height="38" fill="#ff0000"/>
<rect x="522" y="158" width="5" height="8" fill="#ff0000"/>
<rect x="523" y="159" width="3" height="6" fill="#ff4500"/>
<rect x="532" y="107" width="1" height="55" fill="#ff0000"/>
<rect x="530" y="139" width="5" height="20" fill="#ff0000"/>
<rect x="531" y="140" width="3" height="18" fill="#ff4500"/>
<rect x="540" y="111" width="1" height="61" fill="#ff0000"/>
<rect x="538" y="120" width="5" height="21" fill="#ff0000"/>
<rect x="539" y="121" width="3" height="19" fill="#ff4500"/>
<rect x="548" y="107" width="1" height="31" fill="#ff0000"/>
<rect x="546" y="117" width="5" height="5" fill="#ff0000"/>
<rect x="547" y="118" width="3" height="3" fill="#ff4500"/>
<rect x="556" y="102" width="1" height="54" fill="#ff0000"/>
<rect x="554" y="106" width="5" height="11" fill="#ff0000"/>
<rect x="555" y="107" width="3" height="9" fill="#ff4500"/>
<rect x="564" y="107" width="1" height="11" fill="#32cd32"/>
<rect x="562" y="112" width="5" height="6" fill="#32cd32"/>
<rect x="572" y="104" width="1" height="46" fill="#32cd32"/>
<rect x="570" y="117" width="5" height="30" fill="#32cd32"/>
<rect x="580" y="143" width="1" height="70" fill="#32cd32"/>
<rect x="578" y="146" width="5" height="61" fill="#32cd32"/>
<rect x="588" y="196" width="1" height="32" fill="#ff0000"/>
<rect x="586" y="203" width="5" height="4" fill="#ff0000"/>
<rect x="587" y="204" width="3" height="2" fill="#ff4500"/>
<rect x="596" y="167" width="1" height="38" fill="#ff0000"/>
<rect x="594" y="175" width="5" height="29" fill="#ff0000"/>
<rect x="595" y="176" width="3" height="27" fill="#ff4500"/>
<rect x="604" y="158" width="1" height="32" fill="#ff0000"/>
<rect x="602" y="163" width="5" height="12" fill="#ff0000"/>
<rect x="603" y="164" width="3" height="10" fill="#ff4500"/>
<rect x="612" y="162" width="1" height="8" fill="#32cd32"/>
<rect x="610" y="162" width="5" height="5" fill="#32cd32"/>
<rect x="620" y="115" width="1" height="61" fill="#ff0000"/>
<rect x="618" y="122" width="5" height="45" fill="#ff0000"/>
<rect x="619" y="123" width="3" height="43" fill="#ff4500"/>
<rect x="628" y="91" width="1" height="37" fill="#ff0000"/>
<rect x="626" y="91" width="5" height="32" fill="#ff0000"/>
<rect x="627" y="92" width="3" height="30" fill="#ff4500"/>
<rect x="636" y="55" width="1" height="57" fill="#32cd32"/>
<rect x="634" y="92" width="5" height="16" fill="#32cd32"/>
<rect x="644" y="96" width="1" height="50" fill="#32cd32"/>
<rect x="642" y="107" width="5" height="30" fill="#32cd32"/>
<rect x="652" y="83" width="1" height="55" fill="#ff0000"/>
<rect x="650" y="85" width="5" height="53" fill="#ff0000"/>
<rect x="651" y="86" width="3" height="51" fill="#ff4500"/>
<rect x="660" y="73" width="1" height="9" fill="#ff0000"/>
<rect x="658" y="75" width="5" height="7" fill="#ff0000"/>
<rect x="659" y="76" width="3" height="5" fill="#ff4500"/>
<rect x="668" y="41" width="1" height="40" fill="#ff0000"/>
<rect x="666" y="55" width="5" height="21" fill="#ff0000"/>
<rect x="667" y="56" width="3" height="19" fill="#ff4500"/>
<rect x="676" y="51" width="1" height="18" fill="#32cd32"/>
<rect x="674" y="56" width="5" height="7" fill="#32cd32"/>
<rect x="684" y="62" width="1" height="49" fill="#32cd32"/>
<rect x="682" y="63" width="5" height="37" fill="#32cd32"/>
<rect x="692" y="99" width="1" height="28" fill="#32cd32"/>
<rect x="690" y="99" width="5" height="14" fill="#32cd32"/>
<rect x="700" y="108" width="1" height="27" fill="#32cd32"/>
<rect x="698" y="112" width="5" height="9" fill="#32cd32"/>
<rect x="708" y="117" width="1" height="4" fill="#ff0000"/>
<rect x="706" y="118" width="5" height="2" fill="#ff0000"/>
<rect x="716" y="102" width="1" height="36" fill="#32cd32"/>
<rect x="714" y="118" width="5" height="14" fill="#32cd32"/>
<rect x="724" y="110" width="1" height="27" fill="#ff0000"/>
<rect x="722" y="118" width="5" height="15" fill="#ff0000"/>
<rect x="723" y="119" width="3" height="13" fill="#ff4500"/>
<rect x="732" y="108" width="1" height="28" fill="#32cd32"/>
<rect x="730" y="118" width="5" height="18" fill="#32cd32"/>
<rect x="740" y="120" width="1" height="41" fill="#32cd32"/>
<rect x="738" y="135" width="5" height="21" fill="#32cd32"/>
<rect x="748" y="152" width="1" height="67" fill="#32cd32"/>
<rect x="746" y="155" width="5" height="55" fill="#32cd32"/>
<rect x="756" y="199" width="1" height="17" fill="#ff0000"/>
<rect x="754" y="199" width="5" height="16" fill="#ff0000"/>
<rect x="755" y="200" width="3" height="14" fill="#ff4500"/>
<rect x="764" y="137" width="1" height="71" fill="#ff0000"/>
<rect x="762" y="151" width="5" height="50" fill="#ff0000"/>
<rect x="763" y="152" width="3" height="48" fill="#ff4500"/>
<rect x="772" y="144" width="1" height="52" fill="#32cd32"/>
<rect x="770" y="151" width="5" height="25" fill="#32cd32"/>
<rect x="780" y="144" width="1" height="39" fill="#ff0000"/>
<rect x="778" y="147" width="5" height="29" fill="#ff0000"/>
<rect x="779" y="148" width="3" height="27" fill="#ff4500"/>
<rect x="788" y="119" width="1" height="57" fill="#32cd32"/>
<rect x="786" y="147" width="5" height="16" fill="#32cd32"/>
<rect x="796" y="162" width="1" height="52" fill="#32cd32"/>
<rect x="794" y="163" width="5" height="50" fill="#32cd32"/>
<rect x="804" y="201" width="1" height="13" fill="#ff0000"/>
<rect x="802" y="205" width="5" height="4" fill="#ff0000"/>
<rect x="803" y="206" width="3" height="2" fill="#ff4500"/>
<rect x="812" y="179" width="1" height="47" fill="#ff0000"/>
<rect x="810" y="196" width="5" height="11" fill="#ff0000"/>
<rect x="811" y="197" width="3" height="9" fill="#ff4500"/>
<rect x="820" y="193" width="1" height="55" fill="#32cd32"/>
<rect x="818" y="195" width="5" height="48" fill="#32cd32"/>
<rect x="828" y="240" width="1" height="45" fill="#32cd32"/>
<rect x="826" y="241" width="5" height="40" fill="#32cd32"/>
<rect x="836" y="271" width="1" height="36" fill="#ff0000"/>
<rect x="834" y="278" width="5" height="3" fill="#ff0000"/>
<rect x="835" y="279" width="3" height="1" fill="#ff4500"/>
<rect x="844" y="245" width="1" height="53" fill="#ff0000"/>
<rect x="842" y="250" width="5" height="28" fill="#ff0000"/>
<rect x="843" y="251" width="3" height="26" fill="#ff4500"/>
<rect x="852" y="252" width="1" height="10" fill="#32cd32"/>
<rect x="850" y="259" width="5" height="2" fill="#32cd32"/>
<rect x="860" y="255" width="1" height="28" fill="#32cd32"/>
<rect x="858" y="260" width="5" height="14" fill="#32cd32"/>
<rect x="868" y="249" width="1" height="41" fill="#32cd32"/>
<rect x="866" y="274" width="5" height="10" fill="#32cd32"/>
<rect x="876" y="269" width="1" height="39" fill="#ff0000"/>
<rect x="874" y="276" width="5" height="8" fill="#ff0000"/>
<rect x="875" y="277" width="3" height="6" fill="#ff4500"/>
<rect x="884" y="274" width="1" height="33" fill="#32cd32"/>
<rect x="882" y="277" width="5" height="6" fill="#32cd32"/>
<rect x="892" y="244" width="1" height="40" fill="#ff0000"/>
<rect x="890" y="244" width="5" height="39" fill="#ff0000"/>
<rect x="891" y="245" width="3" height="37" fill="#ff4500"/>
<rect x="900" y="240" width="1" height="11" fill="#32cd32"/>
<rect x="898" y="242" width="5" height="9" fill="#32cd32"/>
<rect x="908" y="177" width="1" height="77" fill="#ff0000"/>
<rect x="906" y="217" width="5" height="33" fill="#ff0000"/>
<rect x="907" y="218" width="3" height="31" fill="#ff4500"/>
<rect x="916" y="194" width="1" height="38" fill="#32cd32"/>
<rect x="914" y="216" width="5" height="4" fill="#32cd32"/>
</g>
<g shape-rendering="crispEdges">
<rect x="3" y="431" width="3" height="8" fill="#c0c0c0"/>
<rect x="11" y="433" width="3" height="6" fill="#c0c0c0"/>
<rect x="19" y="432" width="3" height="7" fill="#c0c0c0"/>
<rect x="27" y="429" width="3" height="10" fill="#c0c0c0"/>
<rect x="35" y="427" width="3" height="12" fill="#c0c0c0"/>
<rect x="43" y="424" width="3" height="15" fill="#c0c0c0"/>
<rect x="51" y="422" width="3" height="17" fill="#c0c0c0"/>
<rect x="59" y="421" width="3" height="18" fill="#c0c0c0"/>
<rect x="67" y="424" width="3" height="15" fill="#c0c0c0"/>
<rect x="75" y="428" width="3" height="11" fill="#c0c0c0"/>
<rect x="83" y="429" width="3" height="10" fill="#c0c0c0"/>
<rect x="91" y="432" width="3" height="7" fill="#c0c0c0"/>
<rect x="99" y="433" width="3" height="6" fill="#c0c0c0"/>
<rect x="107" y="432" width="3" height="7" fill="#c0c0c0"/>
<rect x="115" y="432" width="3" height="7" fill="#c0c0c0"/>
<rect x="123" y="435" width="3" height="4" fill="#c0c0c0"/>
<rect x="131" y="437" width="3" height="2" fill="#c0c0c0"/>
<rect x="139" y="439" width="3" height="1" fill="#c0c0c0"/>
<rect x="147" y="439" width="3" height="4" fill="#c0c0c0"/>
<rect x="155" y="439" width="3" height="5" fill="#c0c0c0"/>
<rect x="163" y="439" width="3" height="8" fill="#c0c0c0"/>
<rect x="171" y="439" width="3" height="12" fill="#c0c0c0"/>
<rect x="179" y="439" width="3" height="15" fill="#c0c0c0"/>
<rect x="187" y="439" width="3" height="17" fill="#c0c0c0"/>
<rect x="195" y="439" width="3" height="18" fill="#c0c0c0"/>
<rect x="203" y="439" width="3" height="20" fill="#c0c0c0"/>
<rect x="211" y="439" width="3" height="23" fill="#c0c0c0"/>
<rect x="219" y="439" width="3" height="26" fill="#c0c0c0"/>
<rect x="227" y="439" width="3" height="27" fill="#c0c0c0"/>
<rect x="235" y="439" width="3" height="28" fill="#c0c0c0"/>
<rect x="243" y="439" width="3" height="29" fill="#c0c0c0"/>
<rect x="251" y="439" width="3" height="30" fill="#c0c0c0"/>
<rect x="259" y="439" width="3" height="30" fill="#c0c0c0"/>
<rect x="267" y="439" width="3" height="29" fill="#c0c0c0"/>
<rect x="275" y="439" width="3" height="27" fill="#c0c0c0"/>
<rect x="283" y="439" width="3" height="27" fill="#c0c0c0"/>
<rect x="291" y="439" width="3" height="25" fill="#c0c0c0"/>
<rect x="299" y="439" width="3" height="24" fill="#c0c0c0"/>
<rect x="307" y="439" width="3" height="24" fill="#c0c0c0"/>
<rect x="315" y="439" width="3" height="22" fill="#c0c0c0"/>
<rect x="323" y="439" width="3" height="21" fill="#c0c0c0"/>
<rect x="331" y="439" width="3" height="20" fill="#c0c0c0"/>
<rect x="339" y="439" width="3" height="18" fill="#c0c0c0"/>
<rect x="347" y="439" width="3" height="17" fill="#c0c0c0"/>
<rect x="355" y="439" width="3" height="13" fill="#c0c0c0"/>
<rect x="363" y="439" width="3" height="11" fill="#c0c0c0"/>
<rect x="371" y="439" width="3" height="9" fill="#c0c0c0"/>
<rect x="379" y="439" width="3" height="7" fill="#c0c0c0"/>
<rect x="387" y="439" width="3" height="6" fill="#c0c0c0"/>
<rect x="395" y="439" width="3" height="4" fill="#c0c0c0"/>
<rect x="403" y="437" width="3" height="2" fill="#c0c0c0"/>
<rect x="411" y="434" width="3" height="5" fill="#c0c0c0"/>
<rect x="419" y="432" width="3" height="7" fill="#c0c0c0"/>
<rect x="427" y="432" width="3" height="7" fill="#c0c0c0"/>
<rect x="435" y="430" width="3" height="9" fill="#c0c0c0"/>
<rect x="443" y="427" width="3" height="12" fill="#c0c0c0"/>
<rect x="451" y="426" width="3" height="13" fill="#c0c0c0"/>
<rect x="459" y="423" width="3" height="16" fill="#c0c0c0"/>
<rect x="467" y="421" width="3" height="18" fill="#c0c0c0"/>
<rect x="475" y="418" width="3" height="21" fill="#c0c0c0"/>
<rect x="483" y="417" width="3" height="22" fill="#c0c0c0"/>
<rect x="491" y="417" width="3" height="22" fill="#c0c0c0"/>
<rect x="499" y="417" width="3" height="22" fill="#c0c0c0"/>
<rect x="507" y="414" width="3" height="25" fill="#c0c0c0"/>
<rect x="515" y="413" width="3" height="26" fill="#c0c0c0"/>
<rect x="523" y="413" width="3" height="26" fill="#c0c0c0"/>
<rect x="531" y="412" width="3" height="27" fill="#c0c0c0"/>
<rect x="539" y="410" width="3" height="29" fill="#c0c0c0"/>
<rect x="547" y="409" width="3" height="30" fill="#c0c0c0"/>
<rect x="555" y="408" width="3" height="31" fill="#c0c0c0"/>
<rect x="563" y="408" width="3" height="31" fill="#c0c0c0"/>
<rect x="571" y="410" width="3" height="29" fill="#c0c0c0"/>
<rect x="579" y="415" width="3" height="24" fill="#c0c0c0"/>
<rect x="587" y="419" width="3" height="20" fill="#c0c0c0"/>
<rect x="595" y="421" width="3" height="18" fill="#c0c0c0"/>
<rect x="603" y="422" width="3" height="17" fill="#c0c0c0"/>
<rect x="611" y="423" width="3" height="16" fill="#c0c0c0"/>
<rect x="619" y="422" width="3" height="17" fill="#c0c0c0"/>
<rect x="627" y="419" width="3" height="20" fill="#c0c0c0"/>
<rect x="635" y="419" width="3" height="20" fill="#c0c0c0"/>
<rect x="643" y="421" width="3" height="18" fill="#c0c0c0"/>
<rect x="651" y="418" width="3" height="21" fill="#c0c0c0"/>
<rect x="659" y="416" width="3" height="23" fill="#c0c0c0"/>
<rect x="667" y="414" width="3" height="25" fill="#c0c0c0"/>
<rect x="675" y="413" width="3" height="26" fill="#c0c0c0"/>
<rect x="683" y="414" width="3" height="25" fill="#c0c0c0"/>
<rect x="691" y="418" width="3" height="21" fill="#c0c0c0"/>
<rect x="699" y="419" width="3" height="20" fill="#c0c0c0"/>
<rect x="707" y="421" width="3" height="18" fill="#c0c0c0"/>
<rect x="715" y="424" width="3" height="15" fill="#c0c0c0"/>
<rect x="723" y="425" width="3" height="14" fill="#c0c0c0"/>
<rect x="731" y="427" width="3" height="12" fill="#c0c0c0"/>
<rect x="739" y="430" width="3" height="9" fill="#c0c0c0"/>
<rect x="747" y="436" width="3" height="3" fill="#c0c0c0"/>
<rect x="755" y="439" width="3" height="2" fill="#c0c0c0"/>
<rect x="763" y="439" width="3" height="2" fill="#c0c0c0"/>
<rect x="771" y="439" width="3" height="3" fill="#c0c0c0"/>
<rect x="779" y="439" width="3" height="3" fill="#c0c0c0"/>
<rect x="787" y="439" width="3" height="4" fill="#c0c0c0"/>
<rect x="795" y="439" width="3" height="7" fill="#c0c0c0"/>
<rect x="803" y="439" width="3" height="9" fill="#c0c0c0"/>
<rect x="811" y="439" width="3" height="10" fill="#c0c0c0"/>
<rect x="819" y="439" width="3" height="13" fill="#c0c0c0"/>
<rect x="827" y="439" width="3" height="18" fill="#c0c0c0"/>
<rect x="835" y="439" width="3" height="21" fill="#c0c0c0"/>
<rect x="843" y="439" width="3" height="22" fill="#c0c0c0"/>
<rect x="851" y="439" width="3" height="22" fill="#c0c0c0"/>
<rect x="859" y="439" width="3" height="24" fill="#c0c0c0"/>
<rect x="867" y="439" width="3" height="25" fill="#c0c0c0"/>
<rect x="875" y="439" width="3" height="25" fill="#c0c0c0"/>
<rect x="883" y="439" width="3" height="26" fill="#c0c0c0"/>
<rect x="891" y="439" width="3" height="23" fill="#c0c0c0"/>
<rect x="899" y="439" width="3" height="22" fill="#c0c0c0"/>
<rect x="907" y="439" width="3" height="18" fill="#c0c0c0"/>
<rect x="915" y="439" width="3" height="16" fill="#c0c0c0"/>
</g>
<path d="M4 436h1v1h-1zM5 435h6v1h-6zM11 434h6v1h-6zM17 433h6v1h-6zM23 432h7v1h-7zM30 431h8v1h-8zM38 430h8v1h-8zM46 429h8v1h-8zM54 428h7v1h-7zM61 427h10v1h-10zM71 426h32v1h-32zM103 427h11v1h-11zM114 428h6v1h-6zM120 429h6v1h-6zM126 430h5v1h-5zM131 431h5v1h-5zM136 432h4v1h-4zM140 433h4v1h-4zM144 434h5v1h-5zM149 435h4v1h-4zM153 436h5v1h-5zM158 437h4v1h-4zM162 438h5v1h-5zM167 439h5v1h-5zM172 440h5v1h-5zM177 441h4v1h-4zM181 442h3v1h-3zM184 443h4v1h-4zM188 444h3v1h-3zM191 445h3v1h-3zM194 446h3v1h-3zM197 447h3v1h-3zM200 448h3v1h-3zM203 449h3v1h-3zM206 450h3v1h-3zM209 451h3v1h-3zM212 452h3v1h-3zM215 453h4v1h-4zM219 454h4v1h-4zM223 455h4v1h-4zM227 456h3v1h-3zM230 457h3v1h-3zM233 458h4v1h-4zM237 459h3v1h-3zM240 460h5v1h-5zM245 461h5v1h-5zM250 462h5v1h-5zM255 463h6v1h-6zM261 464h5v1h-5zM266 465h6v1h-6zM272 466h34v1h-34zM306 465h14v1h-14zM320 464h6v1h-6zM326 463h5v1h-5zM331 462h6v1h-6zM337 461h6v1h-6zM343 460h5v1h-5zM348 459h6v1h-6zM354 458h5v1h-5zM359 457h4v1h-4zM363 456h4v1h-4zM367 455h4v1h-4zM371 454h4v1h-4zM375 453h5v1h-5zM380 452h5v1h-5zM385 451h4v1h-4zM389 450h4v1h-4zM393 449h4v1h-4zM397 448h5v1h-5zM402 447h3v1h-3zM405 446h4v1h-4zM409 445h4v1h-4zM413 444h3v1h-3zM416 443h3v1h-3zM419 442h3v1h-3zM422 441h4v1h-4zM426 440h3v1h-3zM429 439h4v1h-4zM433 438h4v1h-4zM437 437h4v1h-4zM441 436h4v1h-4zM445 435h4v1h-4zM449 434h4v1h-4zM453 433h3v1h-3zM456 432h4v1h-4zM460 431h3v1h-3zM463 430h3v1h-3zM466 429h4v1h-4zM470 428h4v1h-4zM474 427h4v1h-4zM478 426h4v1h-4zM482 425h5v1h-5zM487 424h5v1h-5zM492 423h4v1h-4zM496 422h5v1h-5zM501 421h4v1h-4zM505 420h5v1h-5zM510 419h5v1h-5zM515 418h4v1h-4zM519 417h7v1h-7zM526 416h8v1h-8zM534 415h5v1h-5zM539 414h5v1h-5zM544 413h6v1h-6zM550 412h7v1h-7zM557 411h41v1h-41zM598 412h5v1h-5zM603 413h5v1h-5zM608 414h4v1h-4zM612 415h5v1h-5zM617 416h5v1h-5zM622 417h6v1h-6zM628 418h6v1h-6zM634 419h6v1h-6zM640 420h26v1h-26zM666 419h6v1h-6zM672 418h5v1h-5zM677 417h48v1h-48zM725 418h5v1h-5zM730 419h5v1h-5zM735 420h4v1h-4zM739 421h4v1h-4zM743 422h2v1h-2zM745 423h3v1h-3zM748 424h3v1h-3zM751 425h2v1h-2zM753 426h3v1h-3zM756 427h3v1h-3zM759 428h3v1h-3zM762 429h3v1h-3zM765 430h4v1h-4zM769 431h3v1h-3zM772 432h3v1h-3zM775 433h4v1h-4zM779 434h4v1h-4zM783 435h4v1h-4zM787 436h4v1h-4zM791 437h4v1h-4zM795 438h4v1h-4zM799 439h4v1h-4zM803 440h4v1h-4zM807 441h4v1h-4zM811 442h5v1h-5zM816 443h6v1h-6zM822 444h6v1h-6zM828 445h3v1h-3zM831 446h3v1h-3zM834 447h2v1h-2zM836 448h3v1h-3zM839 449h4v1h-4zM843 450h4v1h-4zM847 451h4v1h-4zM851 452h4v1h-4zM855 453h4v1h-4zM859 454h4v1h-4zM863 455h4v1h-4zM867 456h4v1h-4zM871 457h5v1h-5zM876 458h5v1h-5zM881 459h4v1h-4zM885 460h4v1h-4zM889 461h24v1h-24zM913 460h3v1h-3z" fill="#ff0000" shape-rendering="crispEdges"/>
<g shape-rendering="crispEdges">
<rect x="5" y="496" width="3" height="1" fill="#c0c0c0"/>
<rect x="11" y="496" width="3" height="1" fill="#c0c0c0"/>
<rect x="17" y="496" width="3" height="1" fill="#c0c0c0"/>
<rect x="23" y="496" width="3" height="1" fill="#c0c0c0"/>
<rect x="29" y="496" width="3" height="1" fill="#c0c0c0"/>
<rect x="35" y="496" width="3" height="1" fill="#c0c0c0"/>
<rect x="41" y="496" width="3" height="1" fill="#c0c0c0"/>
<rect x="47" y="496" width="3" height="1" fill="#c0c0c0"/>
<rect x="53" y="496" width="3" height="1" fill="#c0c0c0"/>
<rect x="59" y="496" width="3" height="1" fill="#c0c0c0"/>
<rect x="65" y="496" width="3" height="1" fill="#c0c0c0"/>
<rect x="71" y="496" width="3" height="1" fill="#c0c0c0"/>
<rect x="77" y="496" width="3" height="1" fill="#c0c0c0"/>
<rect x="83" y="496" width="3" height="1" fill="#c0c0c0"/>
<rect x="89" y="496" width="3" height="1" fill="#c0c0c0"/>
<rect x="95" y="496" width="3" height="1" fill="#c0c0c0"/>
<rect x="101" y="496" width="3" height="1" fill="#c0c0c0"/>
<rect x="107" y="496" width="3" height="1" fill="#c0c0c0"/>
<rect x="113" y="496" width="3" height="1" fill="#c0c0c0"/>
<rect x="119" y="496" width="3" height="1" fill="#c0c0c0"/>
<rect x="125" y="496" width="3" height="1" fill="#c0c0c0"/>
<rect x="131" y="496" width="3" height="1" fill="#c0c0c0"/>
<rect x="137" y="496" width="3" height="1" fill="#c0c0c0"/>
<rect x="143" y="496" width="3" height="1" fill="#c0c0c0"/>
<rect x="149" y="496" width="3" height="1" fill="#c0c0c0"/>
<rect x="155" y="496" width="3" height="1" fill="#c0c0c0"/>
<rect x="161" y="496" width="3" height="1" fill="#c0c0c0"/>
<rect x="167" y="496" width="3" height="1" fill="#c0c0c0"/>
<rect x="173" y="496" width="3" height="1" fill="#c0c0c0"/>
<rect x="179" y="496" width="3" height="1" fill="#c0c0c0"/>
<rect x="185" y="496" width="3" height="1" fill="#c0c0c0"/>
<rect x="191" y="496" width="3" height="1" fill="#c0c0c0"/>
<rect x="197" y="496" width="3" height="1" fill="#c0c0c0"/>
<rect x="203" y="496" width="3" height="1" fill="#c0c0c0"/>
<rect x="209" y="496" width="3" height="1" fill="#c0c0c0"/>
<rect x="215" y="496" width="3" height="1" fill="#c0c0c0"/>
<rect x="221" y="496" width="3" height="1" fill="#c0c0c0"/>
<rect x="227" y="496" width="3" height="1" fill="#c0c0c0"/>
<rect x="233" y="496" width="3" height="1" fill="#c0c0c0"/>
<rect x="239" y="496" width="3" height="1" fill="#c0c0c0"/>
<rect x="245" y="496" width="3" height="1" fill="#c0c0c0"/>
<rect x="251" y="496" width="3" height="1" fill="#c0c0c0"/>
<rect x="257" y="496" width="3" height="1" fill="#c0c0c0"/>
<rect x="263" y="496" width="3" height="1" fill="#c0c0c0"/>
<rect x="269" y="496" width="3" height="1" fill="#c0c0c0"/>
<rect x="275" y="496" width="3" height="1" fill="#c0c0c0"/>
<rect x="281" y="496" width="3" height="1" fill="#c0c0c0"/>
<rect x="287" y="496" width="3" height="1" fill="#c0c0c0"/>
<rect x="293" y="496" width="3" height="1" fill="#c0c0c0"/>
<rect x="299" y="496" width="3" height="1" fill="#c0c0c0"/>
<rect x="305" y="496" width="3" height="1" fill="#c0c0c0"/>
<rect x="311" y="496" width="3" height="1" fill="#c0c0c0"/>
<rect x="317" y="496" width="3" height="1" fill="#c0c0c0"/>
<rect x="323" y="496" width="3" height="1" fill="#c0c0c0"/>
<rect x="329" y="496" width="3" height="1" fill="#c0c0c0"/>
<rect x="335" y="496" width="3" height="1" fill="#c0c0c0"/>
<rect x="341" y="496" width="3" height="1" fill="#c0c0c0"/>
<rect x="347" y="496" width="3" height="1" fill="#c0c0c0"/>
<rect x="353" y="496" width="3" height="1" fill="#c0c0c0"/>
<rect x="359" y="496" width="3" height="1" fill="#c0c0c0"/>
<rect x="365" y="496" width="3" height="1" fill="#c0c0c0"/>
<rect x="371" y="496" width="3" height="1" fill="#c0c0c0"/>
<rect x="377" y="496" width="3" height="1" fill="#c0c0c0"/>
<rect x="383" y="496" width="3" height="1" fill="#c0c0c0"/>
<rect x="389" y="496" width="3" height="1" fill="#c0c0c0"/>
<rect x="395" y="496" width="3" height="1" fill="#c0c0c0"/>
<rect x="401" y="496" width="3" height="1" fill="#c0c0c0"/>
<rect x="407" y="496" width="3" height="1" fill="#c0c0c0"/>
<rect x="413" y="496" width="3" height="1" fill="#c0c0c0"/>
<rect x="419" y="496" width="3" height="1" fill="#c0c0c0"/>
<rect x="425" y="496" width="3" height="1" fill="#c0c0c0"/>
<rect x="431" y="496" width="3" height="1" fill="#c0c0c0"/>
<rect x="437" y="496" width="3" height="1" fill="#c0c0c0"/>
<rect x="443" y="496" width="3" height="1" fill="#c0c0c0"/>
<rect x="449" y="496" width="3" height="1" fill="#c0c0c0"/>
<rect x="455" y="496" width="3" height="1" fill="#c0c0c0"/>
<rect x="461" y="496" width="3" height="1" fill="#c0c0c0"/>
<rect x="467" y="496" width="3" height="1" fill="#c0c0c0"/>
<rect x="473" y="496" width="3" height="1" fill="#c0c0c0"/>
<rect x="479" y="496" width="3" height="1" fill="#c0c0c0"/>
<rect x="485" y="496" width="3" height="1" fill="#c0c0c0"/>
<rect x="491" y="496" width="3" height="1" fill="#c0c0c0"/>
<rect x="497" y="496" width="3" height="1" fill="#c0c0c0"/>
<rect x="503" y="496" width="3" height="1" fill="#c0c0c0"/>
<rect x="509" y="496" width="3" height="1" fill="#c0c0c0"/>
<rect x="515" y="496" width="3" height="1" fill="#c0c0c0"/>
<rect x="521" y="496" width="3" height="1" fill="#c0c0c0"/>
<rect x="527" y="496" width="3" height="1" fill="#c0c0c0"/>
<rect x="533" y="496" width="3" height="1" fill="#c0c0c0"/>
<rect x="539" y="496" width="3" height="1" fill="#c0c0c0"/>
<rect x="545" y="496" width="3" height="1" fill="#c0c0c0"/>
<rect x="551" y="496" width="3" height="1" fill="#c0c0c0"/>
<rect x="557" y="496" width="3" height="1" fill="#c0c0c0"/>
<rect x="563" y="496" width="3" height="1" fill="#c0c0c0"/>
<rect x="569" y="496" width="3" height="1" fill="#c0c0c0"/>
<rect x="575" y="496" width="3" height="1" fill="#c0c0c0"/>
<rect x="581" y="496" width="3" height="1" fill="#c0c0c0"/>
<rect x="587" y="496" width="3" height="1" fill="#c0c0c0"/>
<rect x="593" y="496" width="3" height="1" fill="#c0c0c0"/>
<rect x="599" y="496" width="3" height="1" fill="#c0c0c0"/>
<rect x="605" y="496" width="3" height="1" fill="#c0c0c0"/>
<rect x="611" y="496" width="3" height="1" fill="#c0c0c0"/>
<rect x="617" y="496" width="3" height="1" fill="#c0c0c0"/>
<rect x="623" y="496" width="3" height="1" fill="#c0c0c0"/>
<rect x="629" y="496" width="3" height="1" fill="#c0c0c0"/>
<rect x="635" y="496" width="3" height="1" fill="#c0c0c0"/>
<rect x="641" y="496" width="3" height="1" fill="#c0c0c0"/>
<rect x="647" y="496" width="3" height="1" fill="#c0c0c0"/>
<rect x="653" y="496" width="3" height="1" fill="#c0c0c0"/>
<rect x="659" y="496" width="3" height="1" fill="#c0c0c0"/>
<rect x="665" y="496" width="3" height="1" fill="#c0c0c0"/>
<rect x="671" y="496" width="3" height="1" fill="#c0c0c0"/>
<rect x="677" y="496" width="3" height="1" fill="#c0c0c0"/>
<rect x="683" y="496" width="3" height="1" fill="#c0c0c0"/>
<rect x="689" y="496" width="3" height="1" fill="#c0c0c0"/>
<rect x="695" y="496" width="3" height="1" fill="#c0c0c0"/>
<rect x="701" y="496" width="3" height="1" fill="#c0c0c0"/>
<rect x="707" y="496" width="3" height="1" fill="#c0c0c0"/>
<rect x="713" y="496" width="3" height="1" fill="#c0c0c0"/>
<rect x="719" y="496" width="3" height="1" fill="#c0c0c0"/>
<rect x="725" y="496" width="3" height="1" fill="#c0c0c0"/>
<rect x="731" y="496" width="3" height="1" fill="#c0c0c0"/>
<rect x="737" y="496" width="3" height="1" fill="#c0c0c0"/>
<rect x="743" y="496" width="3" height="1" fill="#c0c0c0"/>
<rect x="749" y="496" width="3" height="1" fill="#c0c0c0"/>
<rect x="755" y="496" width="3" height="1" fill="#c0c0c0"/>
<rect x="761" y="496" width="3" height="1" fill="#c0c0c0"/>
<rect x="767" y="496" width="3" height="1" fill="#c0c0c0"/>
<rect x="773" y="496" width="3" height="1" fill="#c0c0c0"/>
<rect x="779" y="496" width="3" height="1" fill="#c0c0c0"/>
<rect x="785" y="496" width="3" height="1" fill="#c0c0c0"/>
<rect x="791" y="496" width="3" height="1" fill="#c0c0c0"/>
<rect x="797" y="496" width="3" height="1" fill="#c0c0c0"/>
<rect x="803" y="496" width="3" height="1" fill="#c0c0c0"/>
<rect x="809" y="496" width="3" height="1" fill="#c0c0c0"/>
<rect x="815" y="496" width="3" height="1" fill="#c0c0c0"/>
<rect x="821" y="496" width="3" height="1" fill="#c0c0c0"/>
<rect x="827" y="496" width="3" height="1" fill="#c0c0c0"/>
<rect x="833" y="496" width="3" height="1" fill="#c0c0c0"/>
<rect x="839" y="496" width="3" height="1" fill="#c0c0c0"/>
<rect x="845" y="496" width="3" height="1" fill="#c0c0c0"/>
<rect x="851" y="496" width="3" height="1" fill="#c0c0c0"/>
<rect x="857" y="496" width="3" height="1" fill="#c0c0c0"/>
<rect x="863" y="496" width="3" height="1" fill="#c0c0c0"/>
<rect x="869" y="496" width="3" height="1" fill="#c0c0c0"/>
<rect x="875" y="496" width="3" height="1" fill="#c0c0c0"/>
<rect x="881" y="496" width="3" height="1" fill="#c0c0c0"/>
<rect x="887" y="496" width="3" height="1" fill="#c0c0c0"/>
<rect x="893" y="496" width="3" height="1" fill="#c0c0c0"/>
<rect x="899" y="496" width="3" height="1" fill="#c0c0c0"/>
<rect x="905" y="496" width="3" height="1" fill="#c0c0c0"/>
<rect x="911" y="496" width="3" height="1" fill="#c0c0c0"/>
<rect x="917" y="496" width="3" height="1" fill="#c0c0c0"/>
<rect x="923" y="496" width="3" height="1" fill="#c0c0c0"/>
<rect x="929" y="496" width="3" height="1" fill="#c0c0c0"/>
<rect x="935" y="496" width="3" height="1" fill="#c0c0c0"/>
<rect x="941" y="496" width="3" height="1" fill="#c0c0c0"/>
<rect x="947" y="496" width="3" height="1" fill="#c0c0c0"/>
<rect x="953" y="496" width="3" height="1" fill="#c0c0c0"/>
<rect x="959" y="496" width="3" height="1" fill="#c0c0c0"/>
<rect x="965" y="496" width="3" height="1" fill="#c0c0c0"/>
<rect x="971" y="496" width="3" height="1" fill="#c0c0c0"/>
<rect x="977" y="496" width="3" height="1" fill="#c0c0c0"/>
<rect x="983" y="496" width="3" height="1" fill="#c0c0c0"/>
<rect x="989" y="496" width="3" height="1" fill="#c0c0c0"/>
<rect x="995" y="496" width="3" height="1" fill="#c0c0c0"/>
<rect x="1001" y="496" width="3" height="1" fill="#c0c0c0"/>
<rect x="1007" y="496" width="3" height="1" fill="#c0c0c0"/>
<rect x="1013" y="496" width="3" height="1" fill="#c0c0c0"/>
<rect x="1019" y="496" width="3" height="1" fill="#c0c0c0"/>
<rect x="1025" y="496" width="3" height="1" fill="#c0c0c0"/>
<rect x="1031" y="496" width="3" height="1" fill="#c0c0c0"/>
<rect x="1037" y="496" width="3" height="1" fill="#c0c0c0"/>
<rect x="1043" y="496" width="3" height="1" fill="#c0c0c0"/>
<rect x="1049" y="496" width="3" height="1" fill="#c0c0c0"/>
<rect x="1055" y="496" width="3" height="1" fill="#c0c0c0"/>
<rect x="1061" y="496" width="3" height="1" fill="#c0c0c0"/>
<rect x="1067" y="496" width="3" height="1" fill="#c0c0c0"/>
<rect x="1073" y="496" width="3" height="1" fill="#c0c0c0"/>
<rect x="1079" y="496" width="3" height="1" fill="#c0c0c0"/>
<rect x="1085" y="496" width="3" height="1" fill="#c0c0c0"/>
<rect x="1091" y="496" width="3" height="1" fill="#c0c0c0"/>
<rect x="1097" y="496" width="3" height="1" fill="#c0c0c0"/>
<rect x="1103" y="496" width="3" height="1" fill="#c0c0c0"/>
<rect x="1109" y="496" width="3" height="1" fill="#c0c0c0"/>
<rect x="1115" y="496" width="3" height="1" fill="#c0c0c0"/>
<rect x="1121" y="496" width="3" height="1" fill="#c0c0c0"/>
<rect x="1127" y="496" width="3" height="1" fill="#c0c0c0"/>
<rect x="1133" y="496" width="3" height="1" fill="#c0c0c0"/>
<rect x="1139" y="496" width="3" height="1" fill="#c0c0c0"/>
<rect x="1145" y="496" width="3" height="1" fill="#c0c0c0"/>
<rect x="1151" y="496" width="3" height="1" fill="#c0c0c0"/>
<rect x="1157" y="496" width="3" height="1" fill="#c0c0c0"/>
<rect x="1163" y="496" width="3" height="1" fill="#c0c0c0"/>
<rect x="5" y="524" width="3" height="1" fill="#c0c0c0"/>
<rect x="11" y="524" width="3" height="1" fill="#c0c0c0"/>
<rect x="17" y="524" width="3" height="1" fill="#c0c0c0"/>
<rect x="23" y="524" width="3" height="1" fill="#c0c0c0"/>
<rect x="29" y="524" width="3" height="1" fill="#c0c0c0"/>
<rect x="35" y="524" width="3" height="1" fill="#c0c0c0"/>
<rect x="41" y="524" width="3" height="1" fill="#c0c0c0"/>
<rect x="47" y="524" width="3" height="1" fill="#c0c0c0"/>
<rect x="53" y="524" width="3" height="1" fill="#c0c0c0"/>
<rect x="59" y="524" width="3" height="1" fill="#c0c0c0"/>
<rect x="65" y="524" width="3" height="1" fill="#c0c0c0"/>
<rect x="71" y="524" width="3" height="1" fill="#c0c0c0"/>
<rect x="77" y="524" width="3" height="1" fill="#c0c0c0"/>
<rect x="83" y="524" width="3" height="1" fill="#c0c0c0"/>
<rect x="89" y="524" width="3" height="1" fill="#c0c0c0"/>
<rect x="95" y="524" width="3" height="1" fill="#c0c0c0"/>
<rect x="101" y="524" width="3" height="1" fill="#c0c0c0"/>
<rect x="107" y="524" width="3" height="1" fill="#c0c0c0"/>
<rect x="113" y="524" width="3" height="1" fill="#c0c0c0"/>
<rect x="119" y="524" width="3" height="1" fill="#c0c0c0"/>
<rect x="125" y="524" width="3" height="1" fill="#c0c0c0"/>
<rect x="131" y="524" width="3" height="1" fill="#c0c0c0"/>
<rect x="137" y="524" width="3" height="1" fill="#c0c0c0"/>
<rect x="143" y="524" width="3" height="1" fill="#c0c0c0"/>
<rect x="149" y="524" width="3" height="1" fill="#c0c0c0"/>
<rect x="155" y="524" width="3" height="1" fill="#c0c0c0"/>
<rect x="161" y="524" width="3" height="1" fill="#c0c0c0"/>
<rect x="167" y="524" width="3" height="1" fill="#c0c0c0"/>
<rect x="173" y="524" width="3" height="1" fill="#c0c0c0"/>
<rect x="179" y="524" width="3" height="1" fill="#c0c0c0"/>
<rect x="185" y="524" width="3" height="1" fill="#c0c0c0"/>
<rect x="191" y="524" width="3" height="1" fill="#c0c0c0"/>
<rect x="197" y="524" width="3" height="1" fill="#c0c0c0"/>
<rect x="203" y="524" width="3" height="1" fill="#c0c0c0"/>
<rect x="209" y="524" width="3" height="1" fill="#c0c0c0"/>
<rect x="215" y="524" width="3" height="1" fill="#c0c0c0"/>
<rect x="221" y="524" width="3" height="1" fill="#c0c0c0"/>
<rect x="227" y="524" width="3" height="1" fill="#c0c0c0"/>
<rect x="233" y="524" width="3" height="1" fill="#c0c0c0"/>
<rect x="239" y="524" width="3" height="1" fill="#c0c0c0"/>
<rect x="245" y="524" width="3" height="1" fill="#c0c0c0"/>
<rect x="251" y="524" width="3" height="1" fill="#c0c0c0"/>
<rect x="257" y="524" width="3" height="1" fill="#c0c0c0"/>
<rect x="263" y="524" width="3" height="1" fill="#c0c0c0"/>
<rect x="269" y="524" width="3" height="1" fill="#c0c0c0"/>
<rect x="275" y="524" width="3" height="1" fill="#c0c0c0"/>
<rect x="281" y="524" width="3" height="1" fill="#c0c0c0"/>
<rect x="287" y="524" width="3" height="1" fill="#c0c0c0"/>
<rect x="293" y="524" width="3" height="1" fill="#c0c0c0"/>
<rect x="299" y="524" width="3" height="1" fill="#c0c0c0"/>
<rect x="305" y="524" width="3" height="1" fill="#c0c0c0"/>
<rect x="311" y="524" width="3" height="1" fill="#c0c0c0"/>
<rect x="317" y="524" width="3" height="1" fill="#c0c0c0"/>
<rect x="323" y="524" width="3" height="1" fill="#c0c0c0"/>
<rect x="329" y="524" width="3" height="1" fill="#c0c0c0"/>
<rect x="335" y="524" width="3" height="1" fill="#c0c0c0"/>
<rect x="341" y="524" width="3" height="1" fill="#c0c0c0"/>
<rect x="347" y="524" width="3" height="1" fill="#c0c0c0"/>
<rect x="353" y="524" width="3" height="1" fill="#c0c0c0"/>
<rect x="359" y="524" width="3" height="1" fill="#c0c0c0"/>
<rect x="365" y="524" width="3" height="1" fill="#c0c0c0"/>
<rect x="371" y="524" width="3" height="1" fill="#c0c0c0"/>
<rect x="377" y="524" width="3" height="1" fill="#c0c0c0"/>
<rect x="383" y="524" width="3" height="1" fill="#c0c0c0"/>
<rect x="389" y="524" width="3" height="1" fill="#c0c0c0"/>
<rect x="395" y="524" width="3" height="1" fill="#c0c0c0"/>
<rect x="401" y="524" width="3" height="1" fill="#c0c0c0"/>
<rect x="407" y="524" width="3" height="1" fill="#c0c0c0"/>
<rect x="413" y="524" width="3" height="1" fill="#c0c0c0"/>
<rect x="419" y="524" width="3" height="1" fill="#c0c0c0"/>
<rect x="425" y="524" width="3" height="1" fill="#c0c0c0"/>
<rect x="431" y="524" width="3" height="1" fill="#c0c0c0"/>
<rect x="437" y="524" width="3" height="1" fill="#c0c0c0"/>
<rect x="443" y="524" width="3" height="1" fill="#c0c0c0"/>
<rect x="449" y="524" width="3" height="1" fill="#c0c0c0"/>
<rect x="455" y="524" width="3" height="1" fill="#c0c0c0"/>
<rect x="461" y="524" width="3" height="1" fill="#c0c0c0"/>
<rect x="467" y="524" width="3" height="1" fill="#c0c0c0"/>
<rect x="473" y="524" width="3" height="1" fill="#c0c0c0"/>
<rect x="479" y="524" width="3" height="1" fill="#c0c0c0"/>
<rect x="485" y="524" width="3" height="1" fill="#c0c0c0"/>
<rect x="491" y="524" width="3" height="1" fill="#c0c0c0"/>
<rect x="497" y="524" width="3" height="1" fill="#c0c0c0"/>
<rect x="503" y="524" width="3" height="1" fill="#c0c0c0"/>
<rect x="509" y="524" width="3" height="1" fill="#c0c0c0"/>
<rect x="515" y="524" width="3" height="1" fill="#c0c0c0"/>
<rect x="521" y="524" width="3" height="1" fill="#c0c0c0"/>
<rect x="527" y="524" width="3" height="1" fill="#c0c0c0"/>
<rect x="533" y="524" width="3" height="1" fill="#c0c0c0"/>
<rect x="539" y="524" width="3" height="1" fill="#c0c0c0"/>
<rect x="545" y="524" width="3" height="1" fill="#c0c0c0"/>
<rect x="551" y="524" width="3" height="1" fill="#c0c0c0"/>
<rect x="557" y="524" width="3" height="1" fill="#c0c0c0"/>
<rect x="563" y="524" width="3" height="1" fill="#c0c0c0"/>
<rect x="569" y="524" width="3" height="1" fill="#c0c0c0"/>
<rect x="575" y="524" width="3" height="1" fill="#c0c0c0"/>
<rect x="581" y="524" width="3" height="1" fill="#c0c0c0"/>
<rect x="587" y="524" width="3" height="1" fill="#c0c0c0"/>
<rect x="593" y="524" width="3" height="1" fill="#c0c0c0"/>
<rect x="599" y="524" width="3" height="1" fill="#c0c0c0"/>
<rect x="605" y="524" width="3" height="1" fill="#c0c0c0"/>
<rect x="611" y="524" width="3" height="1" fill="#c0c0c0"/>
<rect x="617" y="524" width="3" height="1" fill="#c0c0c0"/>
<rect x="623" y="524" width="3" height="1" fill="#c0c0c0"/>
<rect x="629" y="524" width="3" height="1" fill="#c0c0c0"/>
<rect x="635" y="524" width="3" height="1" fill="#c0c0c0"/>
<rect x="641" y="524" width="3" height="1" fill="#c0c0c0"/>
<rect x="647" y="524" width="3" height="1" fill="#c0c0c0"/>
<rect x="653" y="524" width="3" height="1" fill="#c0c0c0"/>
<rect x="659" y="524" width="3" height="1" fill="#c0c0c0"/>
<rect x="665" y="524" width="3" height="1" fill="#c0c0c0"/>
<rect x="671" y="524" width="3" height="1" fill="#c0c0c0"/>
<rect x="677" y="524" width="3" height="1" fill="#c0c0c0"/>
<rect x="683" y="524" width="3" height="1" fill="#c0c0c0"/>
<rect x="689" y="524" width="3" height="1" fill="#c0c0c0"/>
<rect x="695" y="524" width="3" height="1" fill="#c0c0c0"/>
<rect x="701" y="524" width="3" height="1" fill="#c0c0c0"/>
<rect x="707" y="524" width="3" height="1" fill="#c0c0c0"/>
<rect x="713" y="524" width="3" height="1" fill="#c0c0c0"/>
<rect x="719" y="524" width="3" height="1" fill="#c0c0c0"/>
<rect x="725" y="524" width="3" height="1" fill="#c0c0c0"/>
<rect x="731" y="524" width="3" height="1" fill="#c0c0c0"/>
<rect x="737" y="524" width="3" height="1" fill="#c0c0c0"/>
<rect x="743" y="524" width="3" height="1" fill="#c0c0c0"/>
<rect x="749" y="524" width="3" height="1" fill="#c0c0c0"/>
<rect x="755" y="524" width="3" height="1" fill="#c0c0c0"/>
<rect x="761" y="524" width="3" height="1" fill="#c0c0c0"/>
<rect x="767" y="524" width="3" height="1" fill="#c0c0c0"/>
<rect x="773" y="524" width="3" height="1" fill="#c0c0c0"/>
<rect x="779" y="524" width="3" height="1" fill="#c0c0c0"/>
<rect x="785" y="524" width="3" height="1" fill="#c0c0c0"/>
<rect x="791" y="524" width="3" height="1" fill="#c0c0c0"/>
<rect x="797" y="524" width="3" height="1" fill="#c0c0c0"/>
<rect x="803" y="524" width="3" height="1" fill="#c0c0c0"/>
<rect x="809" y="524" width="3" height="1" fill="#c0c0c0"/>
<rect x="815" y="524" width="3" height="1" fill="#c0c0c0"/>
<rect x="821" y="524" width="3" height="1" fill="#c0c0c0"/>
<rect x="827" y="524" width="3" height="1" fill="#c0c0c0"/>
<rect x="833" y="524" width="3" height="1" fill="#c0c0c0"/>
<rect x="839" y="524" width="3" height="1" fill="#c0c0c0"/>
<rect x="845" y="524" width="3" height="1" fill="#c0c0c0"/>
<rect x="851" y="524" width="3" height="1" fill="#c0c0c0"/>
<rect x="857" y="524" width="3" height="1" fill="#c0c0c0"/>
<rect x="863" y="524" width="3" height="1" fill="#c0c0c0"/>
<rect x="869" y="524" width="3" height="1" fill="#c0c0c0"/>
<rect x="875" y="524" width="3" height="1" fill="#c0c0c0"/>
<rect x="881" y="524" width="3" height="1" fill="#c0c0c0"/>
<rect x="887" y="524" width="3" height="1" fill="#c0c0c0"/>
<rect x="893" y="524" width="3" height="1" fill="#c0c0c0"/>
<rect x="899" y="524" width="3" height="1" fill="#c0c0c0"/>
<rect x="905" y="524" width="3" height="1" fill="#c0c0c0"/>
<rect x="911" y="524" width="3" height="1" fill="#c0c0c0"/>
<rect x="917" y="524" width="3" height="1" fill="#c0c0c0"/>
<rect x="923" y="524" width="3" height="1" fill="#c0c0c0"/>
<rect x="929" y="524" width="3" height="1" fill="#c0c0c0"/>
<rect x="935" y="524" width="3" height="1" fill="#c0c0c0"/>
<rect x="941" y="524" width="3" height="1" fill="#c0c0c0"/>
<rect x="947" y="524" width="3" height="1" fill="#c0c0c0"/>
<rect x="953" y="524" width="3" height="1" fill="#c0c0c0"/>
<rect x="959" y="524" width="3" height="1" fill="#c0c0c0"/>
<rect x="965" y="524" width="3" height="1" fill="#c0c0c0"/>
<rect x="971" y="524" width="3" height="1" fill="#c0c0c0"/>
<rect x="977" y="524" width="3" height="1" fill="#c0c0c0"/>
<rect x="983" y="524" width="3" height="1" fill="#c0c0c0"/>
<rect x="989" y="524" width="3" height="1" fill="#c0c0c0"/>
<rect x="995" y="524" width="3" height="1" fill="#c0c0c0"/>
<rect x="1001" y="524" width="3" height="1" fill="#c0c0c0"/>
<rect x="1007" y="524" width="3" height="1" fill="#c0c0c0"/>
<rect x="1013" y="524" width="3" height="1" fill="#c0c0c0"/>
<rect x="1019" y="524" width="3" height="1" fill="#c0c0c0"/>
<rect x="1025" y="524" width="3" height="1" fill="#c0c0c0"/>
<rect x="1031" y="524" width="3" height="1" fill="#c0c0c0"/>
<rect x="1037" y="524" width="3" height="1" fill="#c0c0c0"/>
<rect x="1043" y="524" width="3" height="1" fill="#c0c0c0"/>
<rect x="1049" y="524" width="3" height="1" fill="#c0c0c0"/>
<rect x="1055" y="524" width="3" height="1" fill="#c0c0c0"/>
<rect x="1061" y="524" width="3" height="1" fill="#c0c0c0"/>
<rect x="1067" y="524" width="3" height="1" fill="#c0c0c0"/>
<rect x="1073" y="524" width="3" height="1" fill="#c0c0c0"/>
<rect x="1079" y="524" width="3" height="1" fill="#c0c0c0"/>
<rect x="1085" y="524" width="3" height="1" fill="#c0c0c0"/>
<rect x="1091" y="524" width="3" height="1" fill="#c0c0c0"/>
<rect x="1097" y="524" width="3" height="1" fill="#c0c0c0"/>
<rect x="1103" y="524" width="3" height="1" fill="#c0c0c0"/>
<rect x="1109" y="524" width="3" height="1" fill="#c0c0c0"/>
<rect x="1115" y="524" width="3" height="1" fill="#c0c0c0"/>
<rect x="1121" y="524" width="3" height="1" fill="#c0c0c0"/>
<rect x="1127" y="524" width="3" height="1" fill="#c0c0c0"/>
<rect x="1133" y="524" width="3" height="1" fill="#c0c0c0"/>
<rect x="1139" y="524" width="3" height="1" fill="#c0c0c0"/>
<rect x="1145" y="524" width="3" height="1" fill="#c0c0c0"/>
<rect x="1151" y="524" width="3" height="1" fill="#c0c0c0"/>
<rect x="1157" y="524" width="3" height="1" fill="#c0c0c0"/>
<rect x="1163" y="524" width="3" height="1" fill="#c0c0c0"/>
</g>
<path d="M4 506h2v1h-2zM6 507h1v1h-1zM7 508h2v1h-2zM9 509h1v1h-1zM10 510h2v1h-2zM12 511h1v1h-1zM13 510h2v1h-2zM15 509h3v1h-3zM18 508h2v1h-2zM20 507h2v1h-2zM22 506h3v1h-3zM25 505h2v1h-2zM27 504h5v1h-5zM32 503h5v1h-5zM37 502h5v1h-5zM42 501h7v1h-7zM49 500h5v1h-5zM54 501h4v1h-4zM58 502h3v1h-3zM61 503h1v1h-1zM62 504h1v1h-1zM63 505h1v2h-1zM64 507h1v1h-1zM65 508h1v1h-1zM66 509h1v1h-1zM67 510h1v1h-1zM68 511h12v1h-12zM80 512h8v1h-8zM88 513h6v1h-6zM94 512h2v1h-2zM96 511h3v1h-3zM99 510h2v1h-2zM101 509h2v1h-2zM103 508h2v1h-2zM105 507h1v1h-1zM106 506h2v1h-2zM108 505h1v1h-1zM109 506h2v1h-2zM111 507h2v1h-2zM113 508h2v1h-2zM115 509h1v1h-1zM116 510h3v1h-3zM119 511h2v1h-2zM121 512h3v1h-3zM124 513h11v1h-11zM135 514h4v1h-4zM139 515h6v1h-6zM145 516h7v1h-7zM152 515h6v1h-6zM158 516h3v1h-3zM161 517h2v1h-2zM163 518h3v1h-3zM166 519h2v1h-2zM168 520h2v1h-2zM170 521h2v1h-2zM172 522h1v1h-1zM173 521h5v1h-5zM178 520h22v1h-22zM200 521h5v1h-5zM205 522h2v1h-2zM207 523h3v1h-3zM210 524h2v1h-2zM212 525h4v1h-4zM216 524h9v1h-9zM225 525h17v1h-17zM242 526h7v1h-7zM249 527h4v1h-4zM253 526h2v1h-2zM255 525h2v1h-2zM257 524h1v1h-1zM258 523h2v1h-2zM260 522h10v1h-10zM270 521h8v1h-8zM278 520h10v1h-10zM288 519h9v1h-9zM297 520h6v1h-6zM303 521h5v1h-5zM308 522h1v1h-1zM309 521h2v1h-2zM311 520h2v1h-2zM313 519h2v1h-2zM315 518h4v1h-4zM319 517h11v1h-11zM330 518h3v1h-3zM333 517h2v1h-2zM335 516h2v1h-2zM337 515h2v1h-2zM339 514h4v1h-4zM343 515h2v1h-2zM345 516h3v1h-3zM348 517h1v1h-1zM349 516h1v1h-1zM350 515h1v1h-1zM351 514h1v1h-1zM352 513h1v1h-1zM353 512h1v1h-1zM354 511h1v1h-1zM355 510h1v1h-1zM356 509h4v1h-4zM360 508h10v1h-10zM370 509h8v1h-8zM378 510h7v1h-7zM385 511h4v1h-4zM389 510h1v1h-1zM390 509h2v1h-2zM392 508h1v1h-1zM393 507h1v1h-1zM394 506h1v1h-1zM395 505h2v1h-2zM397 504h1v1h-1zM398 503h1v1h-1zM399 502h1v1h-1zM400 501h1v1h-1zM401 500h1v1h-1zM402 499h1v1h-1zM403 498h3v1h-3zM406 499h2v1h-2zM408 500h2v1h-2zM410 501h2v1h-2zM412 502h6v1h-6zM418 503h4v1h-4zM422 504h3v1h-3zM425 505h2v1h-2zM427 506h2v1h-2zM429 505h2v1h-2zM431 504h3v1h-3zM434 503h2v1h-2zM436 502h3v1h-3zM439 501h4v1h-4zM443 500h10v1h-10zM453 499h3v1h-3zM456 498h2v1h-2zM458 497h7v1h-7zM465 498h5v1h-5zM470 497h4v1h-4zM474 496h4v1h-4zM478 497h3v1h-3zM481 498h3v1h-3zM484 499h5v1h-5zM489 500h12v1h-12zM501 499h1v1h-1zM502 498h2v1h-2zM504 497h1v1h-1zM505 496h1v1h-1zM506 495h2v1h-2zM508 494h1v1h-1zM509 495h2v1h-2zM511 496h1v1h-1zM512 497h1v1h-1zM513 498h2v1h-2zM515 499h1v1h-1zM516 500h4v1h-4zM520 499h6v1h-6zM526 498h5v1h-5zM531 497h6v1h-6zM537 496h8v1h-8zM545 495h15v1h-15zM560 496h5v1h-5zM565 497h1v1h-1zM566 498h2v1h-2zM568 499h1v1h-1zM569 500h1v1h-1zM570 501h2v1h-2zM572 502h1v1h-1zM573 503h1v2h-1zM574 505h1v1h-1zM575 506h1v1h-1zM576 507h1v1h-1zM577 508h1v1h-1zM578 509h1v2h-1zM579 511h1v1h-1zM580 512h9v1h-9zM589 511h2v1h-2zM591 510h2v1h-2zM593 509h2v1h-2zM595 508h3v1h-3zM598 507h4v1h-4zM602 506h8v1h-8zM610 507h3v1h-3zM613 506h2v1h-2zM615 505h2v1h-2zM617 504h2v1h-2zM619 503h2v1h-2zM621 502h2v1h-2zM623 501h2v1h-2zM625 500h2v1h-2zM627 499h3v1h-3zM630 500h3v1h-3zM633 501h3v1h-3zM636 502h2v1h-2zM638 503h2v1h-2zM640 504h2v1h-2zM642 505h2v1h-2zM644 506h1v1h-1zM645 505h2v1h-2zM647 504h2v1h-2zM649 503h1v1h-1zM650 502h2v1h-2zM652 501h5v1h-5zM657 500h7v1h-7zM664 499h9v1h-9zM673 500h4v1h-4zM677 501h2v1h-2zM679 502h2v1h-2zM681 503h2v1h-2zM683 504h1v1h-1zM684 505h4v1h-4zM688 506h3v1h-3zM691 507h8v1h-8zM699 508h13v1h-13zM712 509h3v1h-3zM715 510h3v1h-3zM718 509h3v1h-3zM721 508h6v1h-6zM727 509h2v1h-2zM729 510h3v1h-3zM732 511h4v1h-4zM736 512h4v1h-4zM740 513h2v1h-2zM742 514h1v1h-1zM743 515h1v1h-1zM744 516h2v1h-2zM746 517h1v1h-1zM747 518h1v1h-1zM748 519h3v1h-3zM751 518h6v1h-6zM757 517h1v1h-1zM758 516h1v1h-1zM759 515h1v1h-1zM760 514h1v1h-1zM761 513h2v1h-2zM763 512h1v1h-1zM764 511h3v1h-3zM767 512h2v1h-2zM769 513h3v1h-3zM772 514h1v1h-1zM773 513h2v1h-2zM775 512h2v1h-2zM777 511h2v1h-2zM779 510h4v1h-4zM783 511h5v1h-5zM788 512h2v1h-2zM790 513h1v1h-1zM791 514h2v1h-2zM793 515h2v1h-2zM795 516h1v1h-1zM796 517h3v1h-3zM799 516h9v1h-9zM808 515h6v1h-6zM814 516h2v1h-2zM816 517h2v1h-2zM818 518h2v1h-2zM820 519h3v1h-3zM823 520h2v1h-2zM825 521h3v1h-3zM828 522h9v1h-9zM837 521h2v1h-2zM839 520h2v1h-2zM841 519h2v1h-2zM843 518h6v1h-6zM849 519h8v1h-8zM857 520h9v1h-9zM866 521h5v1h-5zM871 520h14v1h-14zM885 519h1v1h-1zM886 518h2v1h-2zM888 517h1v1h-1zM889 516h2v1h-2zM891 515h1v1h-1zM892 514h4v1h-4zM896 515h5v1h-5zM901 514h2v1h-2zM903 513h2v1h-2zM905 512h1v1h-1zM906 511h2v1h-2zM908 510h4v1h-4zM912 511h5v1h-5z" fill="#1e90ff" shape-rendering="crispEdges"/>
<g shape-rendering="crispEdges">
<rect x="1167" y="35" width="2" height="1" fill="#000"/>
<rect x="1167" y="68" width="2" height="1" fill="#000"/>
<rect x="1167" y="101" width="2" height="1" fill="#000"/>
<rect x="1167" y="134" width="2" height="1" fill="#000"/>
<rect x="1167" y="167" width="2" height="1" fill="#000"/>
<rect x="1167" y="200" width="2" height="1" fill="#000"/>
<rect x="1167" y="233" width="2" height="1" fill="#000"/>
<rect x="1167" y="266" width="2" height="1" fill="#000"/>
<rect x="1167" y="299" width="2" height="1" fill="#000"/>
<rect x="1167" y="332" width="2" height="1" fill="#000"/>
<rect x="1167" y="365" width="2" height="1" fill="#000"/>
<rect x="1167" y="398" width="2" height="1" fill="#000"/>
<rect x="1167" y="439" width="1" height="1" fill="#000"/>
<rect x="1167" y="405" width="1" height="1" fill="#000"/>
<rect x="1168" y="76" width="40" height="11" fill="#ff0000"/>
<rect x="1168" y="145" width="40" height="11" fill="#00ff00"/>
<rect x="1168" y="213" width="40" height="12" fill="#0000ff"/>
<rect x="1168" y="275" width="40" height="11" fill="#0000ff"/>
<rect x="1168" y="337" width="40" height="11" fill="#0000ff"/>
<rect x="1167" y="476" width="1" height="1" fill="#000"/>
<rect x="1167" y="471" width="1" height="1" fill="#000"/>
<rect x="1167" y="545" width="1" height="1" fill="#000"/>
<rect x="4" y="547" width="1" height="3" fill="#000"/>
<rect x="68" y="547" width="1" height="3" fill="#000"/>
<rect x="132" y="547" width="1" height="3" fill="#000"/>
<rect x="196" y="547" width="1" height="3" fill="#000"/>
<rect x="260" y="547" width="1" height="3" fill="#000"/>
<rect x="324" y="547" width="1" height="3" fill="#000"/>
<rect x="388" y="547" width="1" height="3" fill="#000"/>
<rect x="452" y="547" width="1" height="3" fill="#000"/>
<rect x="516" y="547" width="1" height="3" fill="#000"/>
<rect x="580" y="547" width="1" height="3" fill="#000"/>
<rect x="644" y="547" width="1" height="3" fill="#000"/>
<rect x="708" y="547" width="1" height="3" fill="#000"/>
<rect x="772" y="547" width="1" height="3" fill="#000"/>
<rect x="836" y="547" width="1" height="3" fill="#000"/>
<rect x="900" y="547" width="1" height="3" fill="#000"/>
</g>
<text x="1172.2" y="39" textLength="33.3" lengthAdjust="spacing">1.29750</text>
<text x="1172.2" y="72" textLength="33.3" lengthAdjust="spacing">1.29105</text>
<text x="1172.2" y="105" textLength="33.3" lengthAdjust="spacing">1.28475</text>
<text x="1172.2" y="138" textLength="33.3" lengthAdjust="spacing">1.27830</text>
<text x="1172.2" y="171" textLength="33.3" lengthAdjust="spacing">1.27200</text>
<text x="1172.2" y="204" textLength="33.3" lengthAdjust="spacing">1.26570</text>
<text x="1172.2" y="237" textLength="33.3" lengthAdjust="spacing">1.25925</text>
<text x="1172.2" y="270" textLength="33.3" lengthAdjust="spacing">1.25295</text>
<text x="1172.2" y="303" textLength="33.3" lengthAdjust="spacing">1.24650</text>
<text x="1172.2" y="336" textLength="33.3" lengthAdjust="spacing">1.24020</text>
<text x="1172.2" y="369" textLength="33.3" lengthAdjust="spacing">1.23375</text>
<text x="1172.2" y="402" textLength="33.3" lengthAdjust="spacing">1.22745</text>
<text x="1172.2" y="85" class="w" textLength="33.3" lengthAdjust="spacing">1.28851</text>
<text x="1172.2" y="154" class="w" textLength="33.3" lengthAdjust="spacing">1.27515</text>
<text x="1172.2" y="222" class="w" textLength="33.3" lengthAdjust="spacing">1.26199</text>
<text x="1172.2" y="284" class="w" textLength="33.3" lengthAdjust="spacing">1.24995</text>
<text x="1172.2" y="346" class="w" textLength="33.3" lengthAdjust="spacing">1.23810</text>
<text x="1170" y="414" textLength="38.6" lengthAdjust="spacing">0.009345</text>
<text x="1170" y="443" textLength="18.6" lengthAdjust="spacing">0.00</text>
<text x="1170.2" y="469" textLength="43" lengthAdjust="spacing">-0.008902</text>
<text x="1170" y="485" textLength="16" lengthAdjust="spacing">100</text>
<text x="1169.5" y="500" textLength="10.6" lengthAdjust="spacing">70</text>
<text x="1169.5" y="528" textLength="10.6" lengthAdjust="spacing">30</text>
<text x="1170" y="543">0</text>
<path d="M7 29h7v1h-1v1h-1v1h-1v1h-1v-1h-1v-1h-1v-1h-1z" fill="#000" shape-rendering="crispEdges"/>
<text x="19.5" y="34" textLength="68.5" lengthAdjust="spacing">USDCAD-,Daily</text>
<text x="94.3" y="34" textLength="33.3" lengthAdjust="spacing">1.26250</text>
<text x="130.2" y="34" textLength="33.3" lengthAdjust="spacing">1.26680</text>
<text x="166.1" y="34" textLength="33.3" lengthAdjust="spacing">1.25966</text>
<text x="202.0" y="34" textLength="33.3" lengthAdjust="spacing">1.26205</text>
<text x="8.2" y="416" textLength="66.5" lengthAdjust="spacing">MACD(12,26,9)</text>
<text x="77.2" y="416" textLength="41.6" lengthAdjust="spacing">-0.004023</text>
<text x="120.8" y="416" textLength="41.8" lengthAdjust="spacing">-0.005862</text>
<text x="8.2" y="487" textLength="32.5" lengthAdjust="spacing">RSI(14)</text>
<text x="43.3" y="487" textLength="33.5" lengthAdjust="spacing">49.9245</text>
<text x="3.4" y="559" class="d" textLength="52.9" lengthAdjust="spacing">14 Sep 2021</text>
<text x="67.4" y="559" class="d" textLength="51.9" lengthAdjust="spacing">23 Sep 2021</text>
<text x="131.4" y="559" class="d" textLength="45.6" lengthAdjust="spacing">3 Oct 2021</text>
<text x="195.4" y="559" class="d" textLength="51.3" lengthAdjust="spacing">12 Oct 2021</text>
<text x="259.4" y="559" class="d" textLength="51.6" lengthAdjust="spacing">21 Oct 2021</text>
<text x="323.4" y="559" class="d" textLength="50.6" lengthAdjust="spacing">31 Oct 2021</text>
<text x="387.4" y="559" class="d" textLength="48.9" lengthAdjust="spacing">9 Nov 2021</text>
<text x="451.4" y="559" class="d" textLength="54.699999999999996" lengthAdjust="spacing">18 Nov 2021</text>
<text x="515.4" y="559" class="d" textLength="53.9" lengthAdjust="spacing">28 Nov 2021</text>
<text x="579.4" y="559" class="d" textLength="47.3" lengthAdjust="spacing">7 Dec 2021</text>
<text x="643.4" y="559" class="d" textLength="52.3" lengthAdjust="spacing">16 Dec 2021</text>
<text x="707.4" y="559" class="d" textLength="52.3" lengthAdjust="spacing">26 Dec 2021</text>
<text x="771.4" y="559" class="d" textLength="46.4" lengthAdjust="spacing">4 Jan 2022</text>
<text x="835.4" y="559" class="d" textLength="50.3" lengthAdjust="spacing">13 Jan 2022</text>
<text x="899.4" y="559" class="d" textLength="50.9" lengthAdjust="spacing">23 Jan 2022</text>
<g opacity="0.99">
<text x="0.5" y="10" class="tb">5</text>
<text x="15.5" y="10" class="tb" textLength="18.8" lengthAdjust="spacing">M30</text>
<text x="46.4" y="10" class="tb" textLength="12.6" lengthAdjust="spacing">H1</text>
<text x="73.6" y="10" class="tb" textLength="13.4" lengthAdjust="spacing">H4</text>
<text x="102.5" y="10" class="tb" textLength="12.8" lengthAdjust="spacing">D1</text>
<text x="130" y="10" class="tb" textLength="15.2" lengthAdjust="spacing">W1</text>
<text x="156.6" y="10" class="tb" textLength="15.8" lengthAdjust="spacing">MN</text>
</g>
<g shape-rendering="crispEdges">
<rect x="0" y="567" width="1208" height="1" fill="#e0e0e0"/>
<rect x="0" y="568" width="1208" height="1" fill="#f6f6f6"/>
<rect x="0" y="569" width="1208" height="1" fill="#000"/>
<rect x="0" y="570" width="1208" height="19" fill="#f0f0f0"/>
<rect x="0" y="570" width="1208" height="1" fill="#f9f9f9"/>
<rect x="0" y="569" width="1" height="20" fill="#505050"/>
<rect x="1" y="570" width="1" height="19" fill="#fff"/>
<rect x="0" y="589" width="1208" height="1" fill="#ffffff"/>
<rect x="0" y="590" width="1208" height="3" fill="#f1f1f1"/>
<rect x="0" y="593" width="1208" height="1" fill="#a0a0a0"/>
<rect x="0" y="594" width="1208" height="1" fill="#f4f4f4"/>
<rect x="416" y="570" width="1" height="19" fill="#fff"/>
<rect x="417" y="569" width="108" height="19" fill="#000"/>
<rect x="418" y="569" width="106" height="18" fill="#fff"/>
<rect x="525" y="570" width="1" height="18" fill="#808080"/>
<rect x="526" y="571" width="1" height="18" fill="#fafafa"/>
<rect x="417" y="588" width="109" height="1" fill="#fff"/>
<rect x="105" y="572" width="1" height="14" fill="#5a5a5a"/>
<rect x="213" y="572" width="1" height="14" fill="#5a5a5a"/>
<rect x="321" y="572" width="1" height="14" fill="#5a5a5a"/>
<rect x="637" y="572" width="1" height="14" fill="#5a5a5a"/>
<rect x="733" y="572" width="1" height="14" fill="#5a5a5a"/>
<rect x="825" y="572" width="1" height="14" fill="#5a5a5a"/>
<rect x="913" y="572" width="1" height="14" fill="#5a5a5a"/>
<rect x="997" y="572" width="1" height="14" fill="#5a5a5a"/>
</g>
<text x="16.1" y="584" class="tab" textLength="77.8" lengthAdjust="spacing">USDX,Weekly</text>
<text x="116.7" y="584" class="tab" textLength="83.9" lengthAdjust="spacing">EURUSD-,Daily</text>
<text x="223.6" y="584" class="tab" textLength="85.7" lengthAdjust="spacing">AUDUSD-,Daily</text>
<text x="333.4" y="584" class="tab" textLength="71.5" lengthAdjust="spacing">USDCHF-,H4</text>
<text x="428.5" y="584" class="tabA" textLength="85.2" lengthAdjust="spacing">USDCAD-,Daily</text>
<text x="537.2" y="584" class="tab" textLength="87" lengthAdjust="spacing">USDCNH-,Daily</text>
<text x="648.3" y="584" class="tab" textLength="72.7" lengthAdjust="spacing">XAUUSD-,H1</text>
<text x="744.6" y="584" class="tab" textLength="68" lengthAdjust="spacing">UKOil-,Daily</text>
<text x="837.5" y="584" class="tab" textLength="63.3" lengthAdjust="spacing">DJ30-,Daily</text>
<text x="924.4" y="584" class="tab" textLength="61.1" lengthAdjust="spacing">UK100-,H1</text>
<path d="M1185.3 574.5 L1185.3 581.5 L1181.6 578 Z" fill="#a0a0a0"/>
<path d="M1200.7 574.5 L1200.7 581.5 L1204.4 578 Z" fill="#a0a0a0"/>
</svg></body></html>
